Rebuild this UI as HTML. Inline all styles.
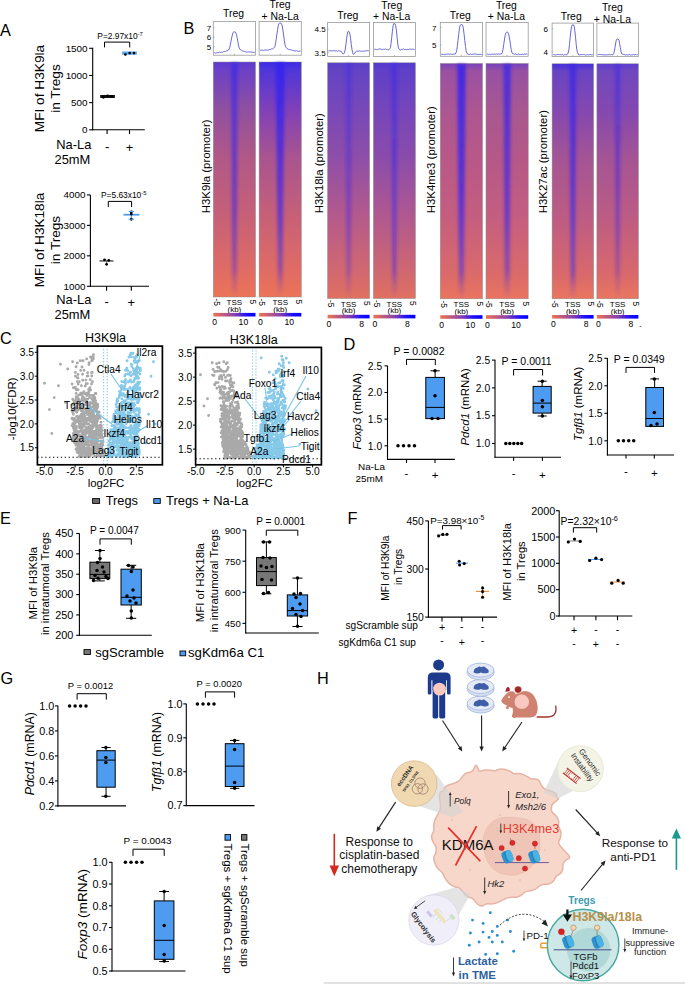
<!DOCTYPE html>
<html><head><meta charset="utf-8"><style>html,body{margin:0;padding:0;background:#fff;}body{width:685px;height:985px;overflow:hidden;font-family:"Liberation Sans", sans-serif;}svg{display:block;}</style></head>
<body><svg width="685" height="985" viewBox="0 0 685 985" font-family='"Liberation Sans", sans-serif'><defs><linearGradient id="cbar" x1="0" x2="1" y1="0" y2="0"><stop offset="0" stop-color="#f07450"/><stop offset="0.5" stop-color="#8a40b0"/><stop offset="0.78" stop-color="#2010f8"/><stop offset="1" stop-color="#0000ff"/></linearGradient><filter id="bblur" x="-50%" y="-5%" width="200%" height="110%"><feGaussianBlur stdDeviation="1.7"/></filter><linearGradient id="hg1" x1="0" x2="0" y1="0" y2="1"><stop offset="0" stop-color="#6a40c8"/><stop offset="0.025" stop-color="#6a40c8"/><stop offset="0.2" stop-color="#9050a0"/><stop offset="0.4" stop-color="#b05888"/><stop offset="0.65" stop-color="#c66078"/><stop offset="0.89" stop-color="#e06c64"/><stop offset="1.0" stop-color="#ec7458"/></linearGradient><linearGradient id="bo1" x1="0" x2="0" y1="0" y2="1"><stop offset="0" stop-color="#3020f0" stop-opacity="0.55"/><stop offset="0.4" stop-color="#3020f0" stop-opacity="0.55"/><stop offset="0.65" stop-color="#3020f0" stop-opacity="0.52"/><stop offset="0.89" stop-color="#3020f0" stop-opacity="0.35"/><stop offset="1" stop-color="#3020f0" stop-opacity="0"/></linearGradient><linearGradient id="cap1" x1="0" x2="0" y1="0" y2="1"><stop offset="0" stop-color="#3020f0" stop-opacity="0.2"/><stop offset="1" stop-color="#3020f0" stop-opacity="0"/></linearGradient><linearGradient id="hg2" x1="0" x2="0" y1="0" y2="1"><stop offset="0" stop-color="#4c36dc"/><stop offset="0.025" stop-color="#4c36dc"/><stop offset="0.2" stop-color="#8040b8"/><stop offset="0.4" stop-color="#a85490"/><stop offset="0.65" stop-color="#c66078"/><stop offset="0.89" stop-color="#e06c64"/><stop offset="1.0" stop-color="#ec7458"/></linearGradient><linearGradient id="bo2" x1="0" x2="0" y1="0" y2="1"><stop offset="0" stop-color="#3020f0" stop-opacity="0.8"/><stop offset="0.4" stop-color="#3020f0" stop-opacity="0.65"/><stop offset="0.65" stop-color="#3020f0" stop-opacity="0.58"/><stop offset="0.89" stop-color="#3020f0" stop-opacity="0.4"/><stop offset="1" stop-color="#3020f0" stop-opacity="0"/></linearGradient><linearGradient id="cap2" x1="0" x2="0" y1="0" y2="1"><stop offset="0" stop-color="#3020f0" stop-opacity="0.5"/><stop offset="1" stop-color="#3020f0" stop-opacity="0"/></linearGradient><linearGradient id="hg3" x1="0" x2="0" y1="0" y2="1"><stop offset="0" stop-color="#6244c4"/><stop offset="0.025" stop-color="#6244c4"/><stop offset="0.2" stop-color="#7848b8"/><stop offset="0.4" stop-color="#8e4ea8"/><stop offset="0.65" stop-color="#b45a8c"/><stop offset="0.89" stop-color="#d26870"/><stop offset="1.0" stop-color="#e07060"/></linearGradient><linearGradient id="bo3" x1="0" x2="0" y1="0" y2="1"><stop offset="0" stop-color="#3020f0" stop-opacity="0.3"/><stop offset="0.4" stop-color="#3020f0" stop-opacity="0.32"/><stop offset="0.65" stop-color="#3020f0" stop-opacity="0.36"/><stop offset="0.89" stop-color="#3020f0" stop-opacity="0.3"/><stop offset="1" stop-color="#3020f0" stop-opacity="0"/></linearGradient><linearGradient id="cap3" x1="0" x2="0" y1="0" y2="1"><stop offset="0" stop-color="#3020f0" stop-opacity="0.15"/><stop offset="1" stop-color="#3020f0" stop-opacity="0"/></linearGradient><linearGradient id="hg4" x1="0" x2="0" y1="0" y2="1"><stop offset="0" stop-color="#5e40c8"/><stop offset="0.025" stop-color="#5e40c8"/><stop offset="0.2" stop-color="#7646ba"/><stop offset="0.4" stop-color="#8a4caa"/><stop offset="0.65" stop-color="#b05890"/><stop offset="0.89" stop-color="#d06870"/><stop offset="1.0" stop-color="#e07060"/></linearGradient><linearGradient id="bo4" x1="0" x2="0" y1="0" y2="1"><stop offset="0" stop-color="#3020f0" stop-opacity="0.35"/><stop offset="0.4" stop-color="#3020f0" stop-opacity="0.42"/><stop offset="0.65" stop-color="#3020f0" stop-opacity="0.45"/><stop offset="0.89" stop-color="#3020f0" stop-opacity="0.42"/><stop offset="1" stop-color="#3020f0" stop-opacity="0"/></linearGradient><linearGradient id="cap4" x1="0" x2="0" y1="0" y2="1"><stop offset="0" stop-color="#3020f0" stop-opacity="0.2"/><stop offset="1" stop-color="#3020f0" stop-opacity="0"/></linearGradient><linearGradient id="hg5" x1="0" x2="0" y1="0" y2="1"><stop offset="0" stop-color="#9a50a2"/><stop offset="0.025" stop-color="#9a50a2"/><stop offset="0.2" stop-color="#ac5692"/><stop offset="0.4" stop-color="#b85888"/><stop offset="0.65" stop-color="#c45e80"/><stop offset="0.89" stop-color="#da6a6a"/><stop offset="1.0" stop-color="#ea7460"/></linearGradient><linearGradient id="bo5" x1="0" x2="0" y1="0" y2="1"><stop offset="0" stop-color="#3020f0" stop-opacity="0.8"/><stop offset="0.4" stop-color="#3020f0" stop-opacity="0.72"/><stop offset="0.65" stop-color="#3020f0" stop-opacity="0.62"/><stop offset="0.89" stop-color="#3020f0" stop-opacity="0.45"/><stop offset="1" stop-color="#3020f0" stop-opacity="0"/></linearGradient><linearGradient id="cap5" x1="0" x2="0" y1="0" y2="1"><stop offset="0" stop-color="#3020f0" stop-opacity="0.3"/><stop offset="1" stop-color="#3020f0" stop-opacity="0"/></linearGradient><linearGradient id="hg6" x1="0" x2="0" y1="0" y2="1"><stop offset="0" stop-color="#9650a4"/><stop offset="0.025" stop-color="#9650a4"/><stop offset="0.2" stop-color="#a85890"/><stop offset="0.4" stop-color="#b45888"/><stop offset="0.65" stop-color="#c45e80"/><stop offset="0.89" stop-color="#da6a6a"/><stop offset="1.0" stop-color="#ea7460"/></linearGradient><linearGradient id="bo6" x1="0" x2="0" y1="0" y2="1"><stop offset="0" stop-color="#3020f0" stop-opacity="0.7"/><stop offset="0.4" stop-color="#3020f0" stop-opacity="0.6"/><stop offset="0.65" stop-color="#3020f0" stop-opacity="0.55"/><stop offset="0.89" stop-color="#3020f0" stop-opacity="0.4"/><stop offset="1" stop-color="#3020f0" stop-opacity="0"/></linearGradient><linearGradient id="cap6" x1="0" x2="0" y1="0" y2="1"><stop offset="0" stop-color="#3020f0" stop-opacity="0.3"/><stop offset="1" stop-color="#3020f0" stop-opacity="0"/></linearGradient><linearGradient id="hg7" x1="0" x2="0" y1="0" y2="1"><stop offset="0" stop-color="#6844c4"/><stop offset="0.025" stop-color="#6844c4"/><stop offset="0.2" stop-color="#8448b0"/><stop offset="0.4" stop-color="#a45494"/><stop offset="0.65" stop-color="#bc5c84"/><stop offset="0.89" stop-color="#d8686c"/><stop offset="1.0" stop-color="#ea7660"/></linearGradient><linearGradient id="bo7" x1="0" x2="0" y1="0" y2="1"><stop offset="0" stop-color="#3020f0" stop-opacity="0.6"/><stop offset="0.4" stop-color="#3020f0" stop-opacity="0.58"/><stop offset="0.65" stop-color="#3020f0" stop-opacity="0.55"/><stop offset="0.89" stop-color="#3020f0" stop-opacity="0.45"/><stop offset="1" stop-color="#3020f0" stop-opacity="0"/></linearGradient><linearGradient id="cap7" x1="0" x2="0" y1="0" y2="1"><stop offset="0" stop-color="#3020f0" stop-opacity="0.6"/><stop offset="1" stop-color="#3020f0" stop-opacity="0"/></linearGradient><linearGradient id="hg8" x1="0" x2="0" y1="0" y2="1"><stop offset="0" stop-color="#7048c0"/><stop offset="0.025" stop-color="#7048c0"/><stop offset="0.2" stop-color="#8448b0"/><stop offset="0.4" stop-color="#a45494"/><stop offset="0.65" stop-color="#bc5c84"/><stop offset="0.89" stop-color="#d8686c"/><stop offset="1.0" stop-color="#ea7660"/></linearGradient><linearGradient id="bo8" x1="0" x2="0" y1="0" y2="1"><stop offset="0" stop-color="#3020f0" stop-opacity="0.38"/><stop offset="0.4" stop-color="#3020f0" stop-opacity="0.42"/><stop offset="0.65" stop-color="#3020f0" stop-opacity="0.4"/><stop offset="0.89" stop-color="#3020f0" stop-opacity="0.3"/><stop offset="1" stop-color="#3020f0" stop-opacity="0"/></linearGradient><linearGradient id="cap8" x1="0" x2="0" y1="0" y2="1"><stop offset="0" stop-color="#3020f0" stop-opacity="0.3"/><stop offset="1" stop-color="#3020f0" stop-opacity="0"/></linearGradient></defs><text x="0" y="36" font-size="16.3">A</text>
<text x="183.5" y="33.8" font-size="16.3">B</text>
<text x="0" y="343.5" font-size="16.3">C</text>
<text x="343.5" y="350" font-size="16.3">D</text>
<text x="0" y="523.7" font-size="16.3">E</text>
<text x="347.5" y="523.5" font-size="16.3">F</text>
<text x="0.5" y="683.7" font-size="16.3">G</text>
<text x="317" y="683.6" font-size="16.3">H</text>
<line x1="92.7" y1="47.8" x2="92.7" y2="130.3" stroke="#000" stroke-width="1.1"/>
<line x1="89.2" y1="129.8" x2="92.7" y2="129.8" stroke="#000" stroke-width="1.1"/>
<text x="87.6" y="133.36" font-size="9.9" text-anchor="end">0</text>
<line x1="89.2" y1="102.63" x2="92.7" y2="102.63" stroke="#000" stroke-width="1.1"/>
<text x="87.6" y="106.2" font-size="9.9" text-anchor="end">500</text>
<line x1="89.2" y1="75.47" x2="92.7" y2="75.47" stroke="#000" stroke-width="1.1"/>
<text x="87.6" y="79.03" font-size="9.9" text-anchor="end">1000</text>
<line x1="89.2" y1="48.3" x2="92.7" y2="48.3" stroke="#000" stroke-width="1.1"/>
<text x="87.6" y="51.86" font-size="9.9" text-anchor="end">1500</text>
<line x1="92.2" y1="129.8" x2="144.8" y2="129.8" stroke="#000" stroke-width="1.1"/>
<line x1="107.1" y1="129.8" x2="107.1" y2="134" stroke="#000" stroke-width="1.1"/>
<line x1="129.5" y1="129.8" x2="129.5" y2="134" stroke="#000" stroke-width="1.1"/>
<rect x="100.2" y="95" width="14.7" height="3" fill="#111"/>
<circle cx="103.4" cy="97.3" r="1.35" fill="#000"/>
<circle cx="107.6" cy="95.8" r="1.35" fill="#000"/>
<circle cx="111.8" cy="96.3" r="1.35" fill="#000"/>
<rect x="122.1" y="51.5" width="14.8" height="3.2" fill="#5aa9f5"/>
<circle cx="125.4" cy="54.5" r="1.35" fill="#000"/>
<circle cx="129.7" cy="53.1" r="1.35" fill="#000"/>
<circle cx="134" cy="53.1" r="1.35" fill="#000"/>
<path d="M104.5 47.4V42.1H129.7V47.4" fill="none" stroke="#000" stroke-width="1"/>
<text x="97.3" y="39.4" font-size="8.4" text-anchor="start">P=2.97x10<tspan font-size="5.88" dy="-3.36">-7</tspan></text>
<text x="44" y="88.5" font-size="13.7" text-anchor="middle" transform="rotate(-90 44 88.5)">MFI of H3K9la</text>
<text x="60.1" y="88.5" font-size="13.7" text-anchor="middle" transform="rotate(-90 60.1 88.5)">in Tregs</text>
<text x="56.3" y="148.5" font-size="12.9">Na-La</text>
<text x="54.5" y="164" font-size="12.9">25mM</text>
<text x="107.1" y="151" font-size="12.9" text-anchor="middle">-</text>
<text x="129.5" y="152" font-size="12.9" text-anchor="middle">+</text>
<line x1="90.4" y1="194.9" x2="90.4" y2="286.8" stroke="#000" stroke-width="1.1"/>
<line x1="86.9" y1="286.3" x2="90.4" y2="286.3" stroke="#000" stroke-width="1.1"/>
<text x="85.5" y="289.86" font-size="9.9" text-anchor="end">1000</text>
<line x1="86.9" y1="255.83" x2="90.4" y2="255.83" stroke="#000" stroke-width="1.1"/>
<text x="85.5" y="259.4" font-size="9.9" text-anchor="end">2000</text>
<line x1="86.9" y1="225.37" x2="90.4" y2="225.37" stroke="#000" stroke-width="1.1"/>
<text x="85.5" y="228.93" font-size="9.9" text-anchor="end">3000</text>
<line x1="86.9" y1="194.9" x2="90.4" y2="194.9" stroke="#000" stroke-width="1.1"/>
<text x="85.5" y="198.46" font-size="9.9" text-anchor="end">4000</text>
<line x1="89.9" y1="286.3" x2="149" y2="286.3" stroke="#000" stroke-width="1.1"/>
<line x1="106.6" y1="286.3" x2="106.6" y2="290.7" stroke="#000" stroke-width="1.1"/>
<line x1="131.3" y1="286.3" x2="131.3" y2="290.7" stroke="#000" stroke-width="1.1"/>
<line x1="99.5" y1="260.92" x2="113.5" y2="260.92" stroke="#666" stroke-width="1.6"/>
<line x1="106.6" y1="264.36" x2="106.6" y2="259.79" stroke="#666" stroke-width="1"/>
<circle cx="104.5" cy="259.79" r="1.4" fill="#000"/>
<circle cx="108.8" cy="260.4" r="1.4" fill="#000"/>
<circle cx="106.6" cy="264.36" r="1.4" fill="#000"/>
<line x1="123.5" y1="214.7" x2="139.5" y2="214.7" stroke="#4a9ef0" stroke-width="1.8"/>
<line x1="131.3" y1="219.58" x2="131.3" y2="211.35" stroke="#4a9ef0" stroke-width="1.1"/>
<circle cx="131.3" cy="211.96" r="1.4" fill="#000"/>
<circle cx="131.3" cy="214.09" r="1.4" fill="#000"/>
<circle cx="131.3" cy="219.27" r="1.4" fill="#000"/>
<line x1="128.6" y1="219.27" x2="134" y2="219.27" stroke="#4a9ef0" stroke-width="1"/>
<line x1="128.6" y1="211.5" x2="134" y2="211.5" stroke="#4a9ef0" stroke-width="1"/>
<path d="M108.3 207V201.4H131.6V207" fill="none" stroke="#000" stroke-width="1"/>
<text x="101" y="198.4" font-size="8.4" text-anchor="start">P=5.63x10<tspan font-size="5.88" dy="-3.36">-5</tspan></text>
<text x="44" y="240" font-size="13.6" text-anchor="middle" transform="rotate(-90 44 240)">MFI of H3K18la</text>
<text x="60.1" y="240" font-size="13.6" text-anchor="middle" transform="rotate(-90 60.1 240)">in Tregs</text>
<text x="56.3" y="303.5" font-size="12.9">Na-La</text>
<text x="54.5" y="318.5" font-size="12.9">25mM</text>
<text x="106.6" y="306" font-size="12.9" text-anchor="middle">-</text>
<text x="131.3" y="307" font-size="12.9" text-anchor="middle">+</text>
<rect x="213.3" y="21.5" width="42.2" height="33.7" fill="#fff" stroke="#9a9a9a" stroke-width="0.8"/>
<line x1="234.4" y1="55.2" x2="234.4" y2="53.7" stroke="#888" stroke-width="0.6"/>
<polyline points="214.1,52.9 214.8,52.7 215.5,53.0 216.1,52.6 216.8,52.9 217.5,52.7 218.2,52.5 218.8,52.7 219.5,52.3 220.2,52.5 220.9,52.2 221.5,52.1 222.2,52.2 222.9,52.3 223.6,51.6 224.3,51.5 224.9,51.6 225.6,51.5 226.3,51.0 227.0,50.6 227.6,50.7 228.3,49.7 229.0,49.5 229.7,47.5 230.3,44.8 231.0,41.3 231.7,37.6 232.4,34.9 233.0,32.5 233.7,32.0 234.4,31.9 235.1,31.8 235.8,32.8 236.4,34.3 237.1,37.4 237.8,41.3 238.5,45.2 239.1,47.6 239.8,49.0 240.5,49.9 241.2,50.2 241.8,50.4 242.5,51.0 243.2,51.2 243.9,51.0 244.6,51.5 245.2,51.6 245.9,52.0 246.6,52.0 247.3,51.8 247.9,52.3 248.6,51.8 249.3,52.0 250.0,52.3 250.6,51.9 251.3,52.2 252.0,51.9 252.7,52.3 253.3,52.4 254.0,52.2 254.7,52.4" fill="none" stroke="#5656d2" stroke-width="0.9"/>
<rect x="213.3" y="62" width="42.2" height="235" fill="url(#hg1)" stroke="#8a8a8a" stroke-width="0.5"/>
<path d="M231.2 62.5H237.7L236.7 296.0H232.2Z" fill="url(#bo1)" filter="url(#bblur)"/>
<rect x="213.6" y="62.3" width="41.6" height="7" fill="url(#cap1)"/>
<text x="213.5" y="298.6" font-size="8.2" transform="rotate(90 213.5 298.6)">-5</text>
<text x="249.9" y="299.6" font-size="8.2" transform="rotate(90 249.9 299.6)">5</text>
<text x="234.4" y="305.2" font-size="8" text-anchor="middle">TSS</text>
<text x="234.4" y="311.9" font-size="8" text-anchor="middle">(kb)</text>
<rect x="213.3" y="312.9" width="42.2" height="3.6" fill="url(#cbar)"/>
<text x="212.3" y="325.3" font-size="8.6">0</text>
<text x="243.4" y="325.3" font-size="8.6" text-anchor="middle">10</text>
<rect x="259.1" y="21.5" width="42.2" height="33.7" fill="#fff" stroke="#9a9a9a" stroke-width="0.8"/>
<line x1="280.2" y1="55.2" x2="280.2" y2="53.7" stroke="#888" stroke-width="0.6"/>
<polyline points="259.9,50.0 260.6,50.3 261.3,50.3 261.9,50.2 262.6,50.2 263.3,50.4 264.0,50.5 264.6,50.1 265.3,50.2 266.0,49.8 266.7,50.2 267.3,50.1 268.0,50.2 268.7,50.0 269.4,49.5 270.1,49.5 270.7,49.5 271.4,48.9 272.1,49.1 272.8,48.7 273.4,48.3 274.1,47.7 274.8,46.8 275.5,43.8 276.1,39.8 276.8,34.9 277.5,30.3 278.2,25.9 278.8,23.8 279.5,23.0 280.2,23.1 280.9,23.2 281.6,24.1 282.2,26.0 282.9,30.0 283.6,34.9 284.3,40.3 284.9,44.4 285.6,46.5 286.3,47.9 287.0,48.6 287.6,48.9 288.3,49.3 289.0,49.6 289.7,49.6 290.4,49.6 291.0,50.0 291.7,50.1 292.4,50.4 293.1,50.8 293.7,50.7 294.4,50.7 295.1,50.9 295.8,51.0 296.4,50.6 297.1,51.3 297.8,51.2 298.5,51.3 299.1,51.3 299.8,51.1 300.5,51.1" fill="none" stroke="#5656d2" stroke-width="0.9"/>
<rect x="259.1" y="62" width="42.2" height="235" fill="url(#hg2)" stroke="#8a8a8a" stroke-width="0.5"/>
<path d="M275.7 62.5H284.7L282.5 296.0H278.0Z" fill="url(#bo2)" filter="url(#bblur)"/>
<rect x="259.4" y="62.3" width="41.6" height="7" fill="url(#cap2)"/>
<text x="259.3" y="298.6" font-size="8.2" transform="rotate(90 259.3 298.6)">-5</text>
<text x="295.7" y="299.6" font-size="8.2" transform="rotate(90 295.7 299.6)">5</text>
<text x="280.2" y="305.2" font-size="8" text-anchor="middle">TSS</text>
<text x="280.2" y="311.9" font-size="8" text-anchor="middle">(kb)</text>
<rect x="259.1" y="312.9" width="42.2" height="3.6" fill="url(#cbar)"/>
<text x="258.1" y="325.3" font-size="8.6">0</text>
<text x="289.2" y="325.3" font-size="8.6" text-anchor="middle">10</text>
<text x="211.2" y="30.5" font-size="8" text-anchor="end">7</text>
<line x1="213.3" y1="27.6" x2="214.5" y2="27.6" stroke="#888" stroke-width="0.6"/>
<text x="211.2" y="40.1" font-size="8" text-anchor="end">6</text>
<line x1="213.3" y1="37.2" x2="214.5" y2="37.2" stroke="#888" stroke-width="0.6"/>
<text x="211.2" y="49.5" font-size="8" text-anchor="end">5</text>
<line x1="213.3" y1="46.6" x2="214.5" y2="46.6" stroke="#888" stroke-width="0.6"/>
<text x="233.5" y="17.4" font-size="10.4" text-anchor="middle">Treg</text>
<text x="280.1" y="8.3" font-size="10.4" text-anchor="middle">Treg</text>
<text x="280.1" y="19.5" font-size="10.4" text-anchor="middle">+ Na-La</text>
<text x="209.6" y="213.2" font-size="11.4" transform="rotate(-90 209.6 213.2)">H3K9la (promoter)</text>
<rect x="327.6" y="22.5" width="42" height="34" fill="#fff" stroke="#9a9a9a" stroke-width="0.8"/>
<line x1="348.6" y1="56.5" x2="348.6" y2="55" stroke="#888" stroke-width="0.6"/>
<polyline points="328.4,50.7 329.1,51.1 329.7,50.7 330.4,50.7 331.1,50.8 331.8,50.8 332.4,50.9 333.1,50.7 333.8,50.7 334.5,50.8 335.1,50.7 335.8,50.9 336.5,50.7 337.2,51.3 337.8,51.1 338.5,50.8 339.2,50.8 339.8,50.9 340.5,51.1 341.2,51.3 341.9,52.5 342.5,53.6 343.2,53.9 343.9,53.8 344.6,52.4 345.2,49.5 345.9,44.7 346.6,38.5 347.3,34.2 347.9,31.6 348.6,31.2 349.3,32.1 349.9,34.0 350.6,38.5 351.3,44.8 352.0,49.5 352.6,52.7 353.3,54.2 354.0,54.1 354.7,53.3 355.3,52.1 356.0,51.5 356.7,51.0 357.4,51.2 358.0,51.0 358.7,51.2 359.4,50.9 360.0,50.8 360.7,51.2 361.4,51.3 362.1,51.2 362.7,51.2 363.4,51.2 364.1,51.2 364.8,50.8 365.4,51.0 366.1,50.9 366.8,50.7 367.5,50.7 368.1,50.8 368.8,50.8" fill="none" stroke="#5656d2" stroke-width="0.9"/>
<rect x="327.6" y="62.8" width="42" height="235.7" fill="url(#hg3)" stroke="#8a8a8a" stroke-width="0.5"/>
<path d="M345.4 63.3H351.9L350.6 297.5H346.6Z" fill="url(#bo3)" filter="url(#bblur)"/>
<rect x="327.9" y="63.1" width="41.4" height="7" fill="url(#cap3)"/>
<text x="327.8" y="300.1" font-size="8.2" transform="rotate(90 327.8 300.1)">-5</text>
<text x="364" y="301.1" font-size="8.2" transform="rotate(90 364 301.1)">5</text>
<text x="348.6" y="306.7" font-size="8" text-anchor="middle">TSS</text>
<text x="348.6" y="313.4" font-size="8" text-anchor="middle">(kb)</text>
<rect x="327.6" y="314.8" width="42" height="3.6" fill="url(#cbar)"/>
<text x="326.6" y="327.2" font-size="8.6">0</text>
<text x="361.7" y="327.2" font-size="8.6" text-anchor="middle">8</text>
<rect x="373.4" y="22.5" width="42" height="34" fill="#fff" stroke="#9a9a9a" stroke-width="0.8"/>
<line x1="394.4" y1="56.5" x2="394.4" y2="55" stroke="#888" stroke-width="0.6"/>
<polyline points="374.2,49.3 374.9,49.5 375.5,49.2 376.2,49.5 376.9,49.6 377.6,49.5 378.2,49.1 378.9,49.0 379.6,49.0 380.3,49.0 380.9,49.0 381.6,49.3 382.3,49.5 383.0,49.5 383.6,49.2 384.3,49.3 385.0,49.4 385.6,48.9 386.3,49.4 387.0,49.6 387.7,49.7 388.3,49.8 389.0,49.6 389.7,48.9 390.4,47.8 391.0,43.7 391.7,37.8 392.4,31.1 393.1,25.7 393.7,23.6 394.4,23.6 395.1,23.8 395.7,25.5 396.4,30.5 397.1,37.3 397.8,44.1 398.4,47.9 399.1,48.9 399.8,49.8 400.5,50.0 401.1,49.6 401.8,49.3 402.5,49.4 403.2,49.0 403.8,49.0 404.5,49.6 405.2,49.4 405.8,49.4 406.5,49.6 407.2,49.3 407.9,49.6 408.5,49.6 409.2,49.2 409.9,49.2 410.6,49.2 411.2,49.2 411.9,49.4 412.6,49.2 413.3,49.3 413.9,49.1 414.6,49.7" fill="none" stroke="#5656d2" stroke-width="0.9"/>
<rect x="373.4" y="62.8" width="42" height="235.7" fill="url(#hg4)" stroke="#8a8a8a" stroke-width="0.5"/>
<path d="M391.1 63.3H397.6L396.4 297.5H392.4Z" fill="url(#bo4)" filter="url(#bblur)"/>
<rect x="373.7" y="63.1" width="41.4" height="7" fill="url(#cap4)"/>
<text x="373.6" y="300.1" font-size="8.2" transform="rotate(90 373.6 300.1)">-5</text>
<text x="409.8" y="301.1" font-size="8.2" transform="rotate(90 409.8 301.1)">5</text>
<text x="394.4" y="306.7" font-size="8" text-anchor="middle">TSS</text>
<text x="394.4" y="313.4" font-size="8" text-anchor="middle">(kb)</text>
<rect x="373.4" y="314.8" width="42" height="3.6" fill="url(#cbar)"/>
<text x="372.4" y="327.2" font-size="8.6">0</text>
<text x="407.5" y="327.2" font-size="8.6" text-anchor="middle">8</text>
<text x="325.6" y="32.1" font-size="8" text-anchor="end">4.5</text>
<line x1="327.6" y1="29.2" x2="328.8" y2="29.2" stroke="#888" stroke-width="0.6"/>
<text x="325.6" y="55.6" font-size="8" text-anchor="end">3.5</text>
<line x1="327.6" y1="52.7" x2="328.8" y2="52.7" stroke="#888" stroke-width="0.6"/>
<text x="347.8" y="18.8" font-size="10.4" text-anchor="middle">Treg</text>
<text x="391.7" y="9.2" font-size="10.4" text-anchor="middle">Treg</text>
<text x="391.7" y="20.4" font-size="10.4" text-anchor="middle">+ Na-La</text>
<text x="323.4" y="213.2" font-size="11.4" transform="rotate(-90 323.4 213.2)">H3K18la (promoter)</text>
<rect x="440.3" y="22.5" width="42.2" height="33.8" fill="#fff" stroke="#9a9a9a" stroke-width="0.8"/>
<line x1="461.4" y1="56.3" x2="461.4" y2="54.8" stroke="#888" stroke-width="0.6"/>
<polyline points="441.1,54.2 441.8,54.3 442.5,54.4 443.1,54.6 443.8,54.2 444.5,54.6 445.2,54.3 445.8,54.3 446.5,54.3 447.2,53.9 447.9,54.2 448.5,54.0 449.2,53.9 449.9,54.5 450.6,54.0 451.2,54.2 451.9,54.4 452.6,54.2 453.3,54.1 454.0,54.2 454.6,54.1 455.3,54.0 456.0,52.7 456.7,50.8 457.3,46.4 458.0,40.5 458.7,34.4 459.4,29.0 460.0,25.8 460.7,24.7 461.4,24.6 462.1,24.5 462.8,25.9 463.4,29.0 464.1,34.3 464.8,40.8 465.5,46.5 466.1,50.7 466.8,52.9 467.5,54.1 468.2,54.2 468.8,54.4 469.5,54.5 470.2,54.0 470.9,54.2 471.6,54.5 472.2,54.5 472.9,54.0 473.6,54.0 474.3,54.2 474.9,54.0 475.6,54.1 476.3,54.0 477.0,54.4 477.6,54.5 478.3,54.6 479.0,54.1 479.7,54.4 480.3,54.4 481.0,54.0 481.7,54.6" fill="none" stroke="#5656d2" stroke-width="0.9"/>
<rect x="440.3" y="63.5" width="42.2" height="235.3" fill="url(#hg5)" stroke="#8a8a8a" stroke-width="0.5"/>
<path d="M457.2 64.0H465.7L463.9 297.8H458.9Z" fill="url(#bo5)" filter="url(#bblur)"/>
<rect x="440.6" y="63.8" width="41.6" height="7" fill="url(#cap5)"/>
<text x="440.5" y="300.4" font-size="8.2" transform="rotate(90 440.5 300.4)">-5</text>
<text x="476.9" y="301.4" font-size="8.2" transform="rotate(90 476.9 301.4)">5</text>
<text x="461.4" y="307" font-size="8" text-anchor="middle">TSS</text>
<text x="461.4" y="313.7" font-size="8" text-anchor="middle">(kb)</text>
<rect x="440.3" y="315.2" width="42.2" height="3.6" fill="url(#cbar)"/>
<text x="439.3" y="327.6" font-size="8.6">0</text>
<text x="470.4" y="327.6" font-size="8.6" text-anchor="middle">10</text>
<rect x="486" y="22.5" width="42.2" height="33.8" fill="#fff" stroke="#9a9a9a" stroke-width="0.8"/>
<line x1="507.1" y1="56.3" x2="507.1" y2="54.8" stroke="#888" stroke-width="0.6"/>
<polyline points="486.8,54.6 487.5,54.1 488.2,54.6 488.8,54.2 489.5,54.3 490.2,54.6 490.9,54.5 491.5,54.1 492.2,54.2 492.9,54.3 493.6,54.2 494.2,54.1 494.9,54.1 495.6,54.4 496.3,53.9 496.9,54.3 497.6,54.2 498.3,53.9 499.0,54.1 499.7,54.2 500.3,54.1 501.0,53.7 501.7,53.9 502.4,52.3 503.0,49.6 503.7,44.7 504.4,40.0 505.1,35.7 505.7,33.6 506.4,32.2 507.1,31.9 507.8,32.3 508.5,33.7 509.1,36.2 509.8,40.0 510.5,44.8 511.2,49.6 511.8,52.2 512.5,53.7 513.2,53.7 513.9,53.8 514.5,54.3 515.2,54.1 515.9,53.9 516.6,54.5 517.2,54.3 517.9,54.5 518.6,54.0 519.3,54.5 520.0,54.0 520.6,54.5 521.3,54.3 522.0,54.2 522.7,54.3 523.3,54.6 524.0,54.1 524.7,54.0 525.4,54.3 526.0,54.1 526.7,54.0 527.4,54.1" fill="none" stroke="#5656d2" stroke-width="0.9"/>
<rect x="486" y="63.5" width="42.2" height="235.3" fill="url(#hg6)" stroke="#8a8a8a" stroke-width="0.5"/>
<path d="M503.4 64.0H510.9L509.6 297.8H504.6Z" fill="url(#bo6)" filter="url(#bblur)"/>
<rect x="486.3" y="63.8" width="41.6" height="7" fill="url(#cap6)"/>
<text x="486.2" y="300.4" font-size="8.2" transform="rotate(90 486.2 300.4)">-5</text>
<text x="522.6" y="301.4" font-size="8.2" transform="rotate(90 522.6 301.4)">5</text>
<text x="507.1" y="307" font-size="8" text-anchor="middle">TSS</text>
<text x="507.1" y="313.7" font-size="8" text-anchor="middle">(kb)</text>
<rect x="486" y="315.2" width="42.2" height="3.6" fill="url(#cbar)"/>
<text x="485" y="327.6" font-size="8.6">0</text>
<text x="516.1" y="327.6" font-size="8.6" text-anchor="middle">10</text>
<text x="436.4" y="30.5" font-size="8" text-anchor="end">7</text>
<line x1="440.3" y1="27.6" x2="441.5" y2="27.6" stroke="#888" stroke-width="0.6"/>
<text x="436.4" y="47.9" font-size="8" text-anchor="end">5</text>
<line x1="440.3" y1="45" x2="441.5" y2="45" stroke="#888" stroke-width="0.6"/>
<text x="460.3" y="19.4" font-size="10.4" text-anchor="middle">Treg</text>
<text x="506.4" y="9.2" font-size="10.4" text-anchor="middle">Treg</text>
<text x="506.4" y="20.4" font-size="10.4" text-anchor="middle">+ Na-La</text>
<text x="434.6" y="213.2" font-size="11.4" transform="rotate(-90 434.6 213.2)">H3K4me3 (promoter)</text>
<rect x="552.1" y="23.1" width="41.5" height="33.5" fill="#fff" stroke="#9a9a9a" stroke-width="0.8"/>
<line x1="572.85" y1="56.6" x2="572.85" y2="55.1" stroke="#888" stroke-width="0.6"/>
<polyline points="552.9,54.5 553.6,54.6 554.2,54.7 554.9,54.7 555.6,55.0 556.2,54.7 556.9,54.8 557.6,54.6 558.2,54.7 558.9,54.5 559.5,54.6 560.2,54.4 560.9,54.9 561.5,54.8 562.2,54.6 562.9,54.7 563.5,55.1 564.2,54.5 564.9,55.0 565.5,54.7 566.2,54.7 566.9,54.9 567.5,54.2 568.2,53.0 568.9,49.9 569.5,44.5 570.2,37.1 570.9,31.1 571.5,26.9 572.2,25.1 572.9,24.7 573.5,24.9 574.2,26.4 574.8,30.6 575.5,36.9 576.2,44.3 576.8,49.6 577.5,52.7 578.2,54.0 578.8,54.9 579.5,55.0 580.2,54.8 580.8,54.6 581.5,54.6 582.2,54.6 582.8,54.7 583.5,54.5 584.2,54.7 584.8,54.6 585.5,55.1 586.1,55.1 586.8,54.8 587.5,54.6 588.1,55.1 588.8,54.7 589.5,54.7 590.1,54.4 590.8,54.7 591.5,54.8 592.1,54.8 592.8,54.6" fill="none" stroke="#5656d2" stroke-width="0.9"/>
<rect x="552.1" y="63.8" width="41.5" height="235" fill="url(#hg7)" stroke="#8a8a8a" stroke-width="0.5"/>
<path d="M569.4 64.3H576.4L575.1 297.8H570.6Z" fill="url(#bo7)" filter="url(#bblur)"/>
<rect x="552.4" y="64.1" width="40.9" height="7" fill="url(#cap7)"/>
<text x="552.3" y="300.4" font-size="8.2" transform="rotate(90 552.3 300.4)">-5</text>
<text x="588" y="301.4" font-size="8.2" transform="rotate(90 588 301.4)">5</text>
<text x="572.85" y="307" font-size="8" text-anchor="middle">TSS</text>
<text x="572.85" y="313.7" font-size="8" text-anchor="middle">(kb)</text>
<rect x="552.1" y="315" width="41.5" height="3.6" fill="url(#cbar)"/>
<text x="551.1" y="327.4" font-size="8.6">0</text>
<text x="586.2" y="327.4" font-size="8.6" text-anchor="middle">8</text>
<rect x="596.9" y="23.1" width="41.5" height="33.5" fill="#fff" stroke="#9a9a9a" stroke-width="0.8"/>
<line x1="617.65" y1="56.6" x2="617.65" y2="55.1" stroke="#888" stroke-width="0.6"/>
<polyline points="597.7,54.8 598.4,54.5 599.0,54.6 599.7,54.5 600.4,54.7 601.0,54.5 601.7,54.5 602.4,54.7 603.0,54.6 603.7,54.9 604.3,54.8 605.0,55.0 605.7,54.9 606.3,54.9 607.0,55.0 607.7,54.7 608.3,54.6 609.0,55.1 609.7,54.5 610.3,54.9 611.0,54.8 611.7,54.4 612.3,54.9 613.0,54.7 613.7,53.6 614.3,51.3 615.0,47.6 615.7,43.0 616.3,40.3 617.0,39.0 617.6,39.0 618.3,39.2 619.0,40.5 619.6,43.3 620.3,47.6 621.0,51.3 621.6,53.6 622.3,54.2 623.0,54.3 623.6,54.4 624.3,54.6 625.0,54.5 625.6,55.0 626.3,54.8 627.0,54.9 627.6,54.9 628.3,54.9 629.0,54.8 629.6,54.4 630.3,55.0 630.9,55.0 631.6,54.8 632.3,54.8 632.9,54.9 633.6,54.5 634.3,55.0 634.9,54.6 635.6,54.5 636.3,54.6 636.9,55.0 637.6,54.6" fill="none" stroke="#5656d2" stroke-width="0.9"/>
<rect x="596.9" y="63.8" width="41.5" height="235" fill="url(#hg8)" stroke="#8a8a8a" stroke-width="0.5"/>
<path d="M614.6 64.3H620.6L619.5 297.8H615.8Z" fill="url(#bo8)" filter="url(#bblur)"/>
<rect x="597.2" y="64.1" width="40.9" height="7" fill="url(#cap8)"/>
<text x="597.1" y="300.4" font-size="8.2" transform="rotate(90 597.1 300.4)">-5</text>
<text x="632.8" y="301.4" font-size="8.2" transform="rotate(90 632.8 301.4)">5</text>
<text x="617.65" y="307" font-size="8" text-anchor="middle">TSS</text>
<text x="617.65" y="313.7" font-size="8" text-anchor="middle">(kb)</text>
<rect x="596.9" y="315" width="41.5" height="3.6" fill="url(#cbar)"/>
<text x="595.9" y="327.4" font-size="8.6">0</text>
<text x="631" y="327.4" font-size="8.6" text-anchor="middle">8</text>
<text x="548" y="31.5" font-size="8" text-anchor="end">6</text>
<line x1="552.1" y1="28.6" x2="553.3" y2="28.6" stroke="#888" stroke-width="0.6"/>
<text x="548" y="54.9" font-size="8" text-anchor="end">4</text>
<line x1="552.1" y1="52" x2="553.3" y2="52" stroke="#888" stroke-width="0.6"/>
<text x="571.2" y="19.8" font-size="10.4" text-anchor="middle">Treg</text>
<text x="612.4" y="11.2" font-size="10.4" text-anchor="middle">Treg</text>
<text x="612.4" y="22.5" font-size="10.4" text-anchor="middle">+ Na-La</text>
<text x="546.7" y="213.2" font-size="11.4" transform="rotate(-90 546.7 213.2)">H3K27ac (promoter)</text>
<path d="M86.7 408.9h0M79.1 446.6h0M90.7 389.9h0M76.8 437.3h0M99.2 412.3h0M92.5 406.9h0M76.3 426.1h0M101.7 435.0h0M91.8 443.0h0M82.5 435.2h0M77.4 435.5h0M89.5 448.6h0M73.5 438.9h0M74.8 431.2h0M78.7 395.1h0M84.4 429.9h0M89.1 420.2h0M101.7 456.0h0M91.5 454.3h0M88.1 448.4h0M89.5 418.5h0M95.2 418.2h0M90.2 454.6h0M77.3 363.0h0M75.3 387.3h0M92.6 423.9h0M72.8 423.6h0M84.6 439.4h0M91.1 414.5h0M100.3 454.3h0M91.2 452.4h0M93.3 359.0h0M94.4 408.8h0M93.8 421.9h0M84.7 444.6h0M92.1 410.4h0M80.7 370.5h0M98.0 454.2h0M80.2 439.4h0M87.0 442.7h0M76.0 448.9h0M99.5 435.3h0M90.3 404.4h0M87.9 450.3h0M83.9 444.6h0M79.6 408.5h0M93.4 433.6h0M75.1 431.6h0M83.2 418.4h0M91.3 437.2h0M95.4 433.1h0M77.4 381.6h0M97.2 414.4h0M93.2 436.9h0M86.6 444.9h0M74.8 387.9h0M88.3 452.5h0M74.6 442.7h0M85.2 423.9h0M84.7 439.2h0M73.9 437.6h0M94.7 416.4h0M91.6 420.3h0M95.3 393.4h0M101.6 431.5h0M90.1 449.1h0M74.0 408.5h0M103.0 450.6h0M81.4 395.1h0M95.9 440.8h0M84.8 393.7h0M92.7 412.6h0M81.1 393.2h0M77.8 450.5h0M88.0 447.1h0M85.6 418.3h0M83.6 435.1h0M88.2 423.6h0M81.5 414.1h0M96.7 426.0h0M94.8 426.0h0M81.1 443.1h0M94.2 444.6h0M97.7 412.6h0M81.3 420.2h0M88.8 437.2h0M88.2 450.9h0M95.3 449.0h0M96.3 435.1h0M95.4 443.1h0M75.4 439.3h0M72.0 425.6h0M75.8 439.0h0M76.1 397.3h0M96.0 439.1h0M76.0 408.3h0M76.6 389.6h0M97.5 420.0h0M73.6 441.3h0M98.4 456.1h0M77.8 449.0h0M97.2 425.5h0M98.6 448.7h0M79.3 426.0h0M94.4 408.5h0M82.5 446.4h0M92.2 372.4h0M90.7 435.4h0M78.9 401.1h0M77.3 389.4h0M94.8 398.8h0M93.0 447.0h0M99.0 416.6h0M73.6 433.5h0M102.1 450.6h0M80.1 456.2h0M81.8 446.6h0M94.4 443.0h0M103.0 437.5h0M76.9 448.6h0M85.0 419.7h0M101.5 442.9h0M89.2 433.7h0M85.2 437.3h0M88.9 429.5h0M92.8 452.2h0M83.9 415.9h0M87.3 402.6h0M89.9 426.1h0M86.5 410.9h0M82.5 426.1h0M97.8 414.2h0M97.3 446.8h0M78.9 431.9h0M81.0 416.6h0M101.3 454.4h0M75.4 408.3h0M85.4 419.8h0M93.7 443.0h0M94.3 426.0h0M92.6 433.5h0M76.3 396.8h0M87.5 412.8h0M78.4 448.9h0M88.2 427.4h0M95.8 410.2h0M96.9 439.1h0M84.2 433.2h0M89.4 435.7h0M86.3 456.4h0M97.6 429.3h0M73.2 433.8h0M90.9 426.0h0M93.5 440.9h0M83.1 450.8h0M84.7 443.3h0M101.0 433.5h0M83.6 426.2h0M90.5 357.1h0M96.9 418.3h0M88.3 439.4h0M85.2 435.4h0M82.0 437.1h0M78.0 420.3h0M102.7 440.9h0M79.8 454.8h0M76.6 416.5h0M78.2 435.4h0M100.1 418.3h0M75.8 422.3h0M93.5 435.0h0M83.7 449.1h0M80.0 418.3h0M82.8 441.3h0M73.4 414.2h0M93.9 401.1h0M89.6 406.8h0M101.0 422.2h0M83.3 414.1h0M79.3 404.4h0M74.9 440.9h0M82.4 401.0h0M88.8 406.9h0M79.9 431.5h0M77.2 452.3h0M94.5 416.1h0M80.2 423.6h0M76.4 389.9h0M72.1 384.0h0M80.1 444.9h0M81.7 408.4h0M93.7 417.9h0M86.0 431.7h0M88.9 454.3h0M76.2 429.7h0M101.1 450.9h0M85.8 439.4h0M82.5 374.2h0M81.1 448.9h0M87.4 456.1h0M82.2 433.3h0M95.4 423.7h0M93.1 401.3h0M80.8 443.4h0M82.8 404.8h0M83.0 435.6h0M74.6 423.5h0M91.4 442.9h0M90.8 435.1h0M99.0 444.9h0M90.2 433.4h0M91.2 454.4h0M85.2 440.9h0M100.1 415.9h0M100.2 450.8h0M97.6 433.2h0M99.5 417.9h0M92.7 437.6h0M79.5 422.2h0M93.7 395.5h0M85.2 386.0h0M79.3 420.3h0M84.8 415.9h0M100.3 427.4h0M95.5 418.2h0M83.4 450.7h0M83.4 431.3h0M101.2 446.9h0M94.7 418.3h0M98.7 416.1h0M81.5 435.4h0M98.0 431.3h0M85.2 444.6h0M80.8 454.4h0M97.2 446.8h0M88.9 445.2h0M83.2 431.7h0M88.6 410.3h0M99.5 446.4h0M98.3 440.9h0M87.6 441.4h0M83.3 452.7h0M102.1 444.9h0M85.5 412.5h0M82.7 401.3h0M85.9 380.1h0M90.1 420.2h0M89.7 395.3h0M95.9 405.1h0M77.8 431.6h0M91.7 376.0h0M91.1 452.2h0M96.9 448.5h0M84.5 418.5h0M95.2 424.2h0M83.2 435.1h0M100.4 445.3h0M96.8 418.0h0M89.6 441.2h0M80.8 441.1h0M89.5 419.7h0M93.8 424.1h0M98.5 450.5h0M90.8 412.1h0M95.9 433.6h0M90.5 402.7h0M99.8 427.9h0M77.2 403.1h0M85.8 443.2h0M86.8 429.9h0M77.4 377.7h0M97.1 420.1h0M88.9 405.0h0M92.3 360.6h0M88.9 446.4h0M100.3 425.7h0M87.2 376.1h0M87.4 439.2h0M94.1 437.3h0M85.9 448.4h0M72.8 399.2h0M87.1 449.1h0M100.2 445.3h0M98.7 454.4h0M100.5 431.7h0M80.0 425.7h0M87.9 376.0h0M75.9 431.2h0M97.2 443.1h0M81.9 406.4h0M75.4 442.6h0M93.1 442.8h0M77.9 445.2h0M80.7 439.3h0M79.3 448.4h0M73.7 404.8h0M82.7 380.2h0M95.2 439.5h0M97.6 435.2h0M74.5 410.7h0M77.5 452.6h0M91.0 408.7h0M84.9 400.7h0M86.7 441.2h0M94.8 439.1h0M103.1 441.4h0M81.9 404.8h0M86.3 448.6h0M99.2 427.8h0M75.8 437.0h0M86.8 454.2h0M91.8 360.8h0M91.0 356.9h0M100.1 450.4h0M97.5 441.0h0M79.5 405.0h0M86.0 402.6h0M81.0 452.2h0M96.3 437.5h0M83.6 444.7h0M92.0 416.2h0M94.3 452.9h0M82.3 450.9h0M89.7 406.3h0M79.1 444.6h0M83.1 404.5h0M97.3 431.6h0M84.0 420.2h0M83.1 393.1h0M94.3 422.0h0M101.8 437.2h0M89.8 416.1h0M91.1 441.0h0M97.8 428.0h0M77.9 418.1h0M81.7 454.7h0M74.4 431.8h0M86.0 430.0h0M94.0 435.5h0M84.2 425.8h0M76.0 433.7h0M94.1 419.8h0M94.6 433.3h0M99.2 450.6h0M93.8 454.6h0M78.5 408.7h0M77.0 420.3h0M79.3 456.5h0M99.3 444.9h0M100.9 425.7h0M82.3 414.4h0M76.1 366.8h0M97.5 454.6h0M100.2 437.1h0M82.6 410.2h0M99.9 425.4h0M91.6 418.1h0M89.5 397.2h0M88.0 410.5h0M92.3 435.7h0M91.5 438.8h0M88.8 452.3h0M94.4 431.5h0M102.0 430.0h0M76.6 437.0h0M86.2 383.8h0M87.6 418.5h0M73.3 423.6h0M86.4 439.0h0M76.6 398.9h0M100.0 449.0h0M82.0 367.0h0M74.9 427.9h0M87.7 439.4h0M86.7 399.1h0M90.7 452.7h0M100.9 456.4h0M82.1 443.1h0M78.4 452.3h0M82.8 443.3h0M79.8 427.9h0M93.6 419.8h0M88.5 437.6h0M93.3 410.3h0M83.2 454.3h0M84.9 454.3h0M71.9 418.5h0M96.7 427.7h0M85.5 456.3h0M86.8 405.1h0M97.8 404.5h0M82.6 406.8h0M73.4 387.7h0M101.0 443.3h0M80.2 360.7h0M75.4 376.1h0M91.8 435.0h0M88.1 442.7h0M88.3 431.8h0M83.4 421.8h0M72.1 410.8h0M81.5 419.7h0M91.9 420.2h0M91.7 418.3h0M72.1 418.1h0M96.1 431.2h0M85.4 422.1h0M97.3 449.1h0M90.1 410.9h0M85.1 412.6h0M96.4 429.5h0M87.2 414.4h0M93.0 431.8h0M87.6 437.6h0M101.4 433.5h0M80.9 444.8h0M88.9 424.2h0M81.1 418.5h0M81.5 424.2h0M74.3 418.5h0M81.0 410.3h0M101.3 437.3h0M76.9 450.7h0M83.1 452.6h0M78.6 398.9h0M86.1 422.2h0M78.8 452.8h0M85.7 454.2h0M84.3 420.4h0M95.8 421.8h0M95.8 452.5h0M88.8 440.9h0M95.2 406.4h0M78.0 377.9h0M80.4 408.3h0M80.2 446.8h0M95.0 435.7h0M76.8 433.1h0M92.5 402.8h0M76.2 435.0h0M95.0 450.3h0M91.6 419.8h0M75.4 410.4h0M82.6 456.6h0M92.5 450.5h0M78.0 416.6h0M82.5 425.7h0M97.7 414.0h0M101.2 425.8h0M80.8 450.4h0M98.5 431.5h0M87.4 383.6h0M100.9 450.6h0M96.6 424.0h0M78.0 402.6h0M96.5 422.2h0M103.7 456.0h0M76.4 428.0h0M86.2 454.5h0M87.6 372.7h0M94.0 452.4h0M78.8 450.3h0M75.3 420.0h0M97.9 412.2h0M82.4 431.9h0M85.7 437.2h0M93.7 449.1h0M102.7 444.6h0M97.7 448.7h0M91.7 445.2h0M86.1 442.7h0M96.3 450.3h0M90.8 429.5h0M86.6 358.9h0M85.0 450.7h0M97.2 452.6h0M84.9 443.3h0M83.6 448.5h0M73.7 400.7h0M77.4 397.1h0M75.4 435.7h0M90.4 427.5h0M100.2 431.2h0M89.0 418.1h0M76.5 401.0h0M89.2 427.7h0M97.2 439.4h0M75.3 429.9h0M81.6 427.5h0M89.8 456.3h0M88.6 389.4h0M100.9 440.9h0M87.0 439.5h0M91.6 410.8h0M87.9 444.9h0M91.9 452.7h0M76.4 441.1h0M80.2 400.8h0M93.3 412.2h0M100.2 429.7h0M78.0 374.5h0M97.8 406.6h0M76.7 448.7h0M86.8 410.8h0M75.0 400.8h0M96.9 431.8h0M96.4 410.6h0M92.3 444.8h0M87.3 424.0h0M86.9 408.4h0M77.2 406.4h0M95.3 408.5h0M76.0 445.3h0M92.5 381.7h0M86.7 433.4h0M74.6 403.1h0M90.0 402.8h0M91.8 398.8h0M77.0 400.9h0M90.6 431.4h0M76.7 412.3h0M88.5 414.5h0M92.6 427.9h0M89.4 450.5h0M78.6 439.1h0M93.1 358.6h0M80.9 408.9h0M87.4 454.5h0M101.3 427.4h0M82.1 441.2h0M73.7 420.4h0M81.3 450.5h0M95.9 456.4h0M77.9 410.2h0M76.8 421.9h0M94.7 423.7h0M74.5 426.1h0M94.9 447.1h0M87.3 405.2h0M83.9 447.1h0M102.7 450.2h0M93.1 412.6h0M96.2 445.1h0M93.2 402.9h0M92.2 422.0h0M87.4 412.6h0M95.9 416.3h0M88.5 429.3h0M93.6 404.7h0M84.9 405.0h0M74.0 437.1h0M79.2 381.7h0M90.2 379.8h0M97.5 439.1h0M81.4 449.0h0M88.9 364.5h0M101.2 429.7h0M90.2 454.1h0M92.6 439.4h0M81.3 429.6h0M78.2 450.8h0M75.4 372.4h0M88.7 450.8h0M73.5 435.5h0M92.9 397.1h0M95.6 431.5h0M77.7 420.4h0M100.3 447.2h0M85.4 449.1h0M88.9 391.7h0M83.9 448.4h0M96.1 452.8h0M82.6 397.4h0M86.9 456.6h0M87.8 404.7h0M94.0 425.5h0M74.2 410.4h0M101.8 446.9h0M84.8 450.9h0M88.2 439.4h0M79.3 435.3h0M88.4 393.5h0M85.7 410.2h0M95.4 422.2h0M86.3 431.5h0M74.8 425.9h0M91.5 384.0h0M90.7 448.6h0M76.4 435.0h0M85.9 433.3h0M95.9 393.5h0M78.2 384.1h0M89.0 431.8h0M92.4 399.3h0M94.8 397.5h0M83.2 426.1h0M91.8 450.5h0M90.9 444.9h0M78.3 446.8h0M80.8 421.8h0M89.5 408.7h0M78.6 431.8h0M77.6 433.2h0M74.7 443.0h0M80.3 454.8h0M79.6 435.1h0M84.1 445.1h0M88.1 452.3h0M99.6 416.4h0M96.6 429.9h0M89.3 414.4h0M95.6 400.6h0M82.2 398.8h0M89.0 450.8h0M101.1 454.3h0M94.7 446.8h0M83.0 437.3h0M83.8 391.8h0M88.5 446.9h0M79.6 446.7h0M80.0 448.6h0M81.5 446.8h0M92.2 395.4h0M82.3 393.5h0M80.6 445.1h0M100.6 437.5h0M89.1 362.8h0M78.4 444.7h0M99.5 437.5h0M92.3 441.3h0M83.1 412.2h0M83.2 396.9h0M97.7 407.0h0M98.2 433.8h0M96.4 420.4h0M83.5 408.6h0M72.9 436.9h0M72.5 405.1h0M84.6 415.9h0M73.9 402.8h0M89.9 387.6h0M89.5 431.3h0M86.7 393.2h0M81.9 437.4h0M86.8 395.5h0M98.9 412.1h0M93.6 414.2h0M78.9 441.2h0M83.7 416.5h0M80.7 393.3h0M93.2 410.2h0M86.1 427.4h0M77.1 441.2h0M89.3 412.1h0M93.8 446.8h0M87.4 420.2h0M85.3 408.6h0M79.1 445.0h0M99.9 435.3h0M72.7 412.3h0M84.9 445.0h0M82.2 450.4h0M86.4 452.5h0M88.3 418.0h0M78.1 389.7h0M83.6 423.7h0M87.1 427.6h0M89.9 452.6h0M95.3 433.6h0M101.4 425.7h0M79.2 423.7h0M86.6 400.9h0M100.9 431.5h0M87.7 399.1h0M91.7 429.6h0M87.9 429.4h0M89.0 431.2h0M94.7 456.2h0M79.7 447.1h0M75.6 442.9h0M87.5 454.2h0M95.0 431.6h0M83.0 360.8h0M97.2 421.7h0M90.6 421.6h0M93.3 356.9h0M85.4 408.9h0M92.2 425.6h0M82.0 428.1h0M104.5 452.3h0M76.9 420.2h0M96.5 431.5h0M92.8 452.6h0M96.5 407.0h0M95.9 402.9h0M83.4 440.7h0M76.1 393.4h0M81.2 450.8h0M74.4 437.0h0M80.0 416.0h0M102.9 444.7h0M79.3 427.5h0M79.4 443.0h0M87.0 423.9h0M94.1 439.2h0M101.7 444.7h0M80.0 424.0h0M83.2 420.4h0M81.3 410.8h0M81.4 385.7h0M98.6 452.5h0M78.9 439.1h0M73.3 427.8h0M97.0 408.6h0M85.8 452.5h0M91.4 425.8h0M84.0 370.3h0M77.9 443.2h0M92.8 435.5h0M89.5 445.0h0M73.1 439.1h0M87.4 456.6h0M95.9 442.8h0M91.6 372.7h0M79.8 456.6h0M84.6 398.8h0M95.4 410.6h0M92.2 399.4h0M74.0 429.9h0M44.5 383.3h0M49.4 409.6h0M60.4 364.2h0M58.5 385.7h0M67.7 369.0h0M65.3 402.4h0M54.2 397.6h0M72.6 361.8h0M51.8 433.4h0M93.5 354.7h0M91.6 358.0h0" stroke="#a9a9a9" stroke-width="2.9" stroke-linecap="round" fill="none"/>
<path d="M123.9 429.9h0M123.3 439.4h0M128.9 357.1h0M116.3 429.5h0M131.5 398.7h0M124.6 381.9h0M113.8 454.7h0M121.3 439.5h0M117.0 410.7h0M117.6 441.2h0M133.8 370.6h0M112.7 435.0h0M114.0 454.1h0M130.4 445.3h0M134.9 418.1h0M128.8 450.4h0M112.0 454.6h0M124.3 408.4h0M135.3 433.3h0M110.6 448.4h0M130.4 431.3h0M113.6 442.8h0M131.5 420.0h0M122.1 429.3h0M134.6 437.5h0M138.4 368.4h0M139.3 429.7h0M133.6 370.3h0M120.0 416.2h0M134.7 421.8h0M137.7 441.2h0M113.8 446.4h0M126.5 456.3h0M136.6 368.2h0M123.2 408.8h0M116.4 437.4h0M139.2 450.7h0M134.6 456.5h0M131.6 397.3h0M123.6 428.0h0M129.7 450.6h0M128.3 437.4h0M132.6 406.9h0M124.7 420.1h0M120.2 454.5h0M136.9 425.9h0M135.7 450.3h0M136.5 437.2h0M135.4 410.2h0M117.7 418.0h0M123.5 456.2h0M136.0 391.7h0M124.8 439.1h0M114.8 441.1h0M117.0 433.8h0M126.2 447.0h0M133.0 445.2h0M110.9 429.8h0M133.3 399.4h0M117.9 437.1h0M120.5 425.5h0M138.5 452.2h0M129.8 416.5h0M130.5 399.3h0M121.6 454.7h0M126.1 427.8h0M135.2 399.1h0M139.4 398.9h0M127.9 389.6h0M122.0 398.9h0M109.2 445.2h0M133.6 406.4h0M123.8 420.4h0M116.7 440.7h0M131.6 439.1h0M131.3 356.8h0M117.6 438.9h0M122.2 402.5h0M113.1 445.3h0M125.4 437.3h0M130.4 454.6h0M131.4 446.8h0M126.7 454.1h0M116.9 437.6h0M123.8 407.0h0M116.6 456.5h0M131.4 399.4h0M125.4 370.3h0M131.7 408.6h0M116.4 435.0h0M130.6 446.7h0M127.9 381.7h0M137.9 441.3h0M135.4 439.3h0M113.0 431.4h0M133.2 433.4h0M121.1 402.9h0M108.1 448.6h0M128.8 404.7h0M113.7 447.0h0M111.8 456.3h0M134.6 374.1h0M124.1 401.0h0M133.9 417.8h0M135.2 360.9h0M120.2 393.2h0M138.9 383.8h0M134.2 454.4h0M131.3 397.1h0M117.9 400.7h0M119.7 448.9h0M122.4 440.9h0M135.9 362.4h0M123.1 452.9h0M133.0 353.2h0M116.3 435.6h0M117.2 424.2h0M119.6 448.4h0M127.2 408.3h0M116.6 406.9h0M110.3 456.4h0M130.1 403.1h0M128.2 408.3h0M135.3 389.5h0M134.6 429.6h0M120.8 443.3h0M125.9 437.1h0M125.9 441.5h0M133.8 409.0h0M122.1 422.1h0M134.8 378.1h0M130.4 449.1h0M138.1 393.0h0M133.6 448.4h0M122.9 425.7h0M123.0 416.0h0M136.2 448.9h0M119.0 452.6h0M133.2 421.8h0M137.2 354.9h0M130.7 446.8h0M121.5 429.7h0M127.6 456.5h0M138.7 395.2h0M124.1 389.4h0M123.3 452.6h0M114.3 433.7h0M132.3 431.3h0M122.0 405.1h0M115.8 435.3h0M122.0 431.2h0M119.1 431.7h0M118.9 406.7h0M136.2 429.6h0M124.7 376.1h0M134.2 372.5h0M108.0 448.8h0M139.1 452.6h0M131.0 375.8h0M136.0 410.4h0M126.3 443.1h0M130.5 435.0h0M133.7 421.6h0M123.4 418.1h0M136.0 389.7h0M128.2 431.8h0M131.2 425.8h0M119.0 440.7h0M136.6 408.8h0M120.3 442.9h0M134.1 429.2h0M136.1 456.2h0M121.1 405.2h0M136.7 378.2h0M126.1 416.6h0M117.1 436.9h0M130.5 404.9h0M134.4 397.0h0M134.3 380.1h0M122.4 395.2h0M110.8 435.6h0M134.0 410.9h0M131.7 433.1h0M117.2 441.2h0M133.3 404.4h0M119.3 391.6h0M123.3 446.6h0M138.0 382.1h0M122.2 395.5h0M118.5 424.0h0M126.1 420.2h0M121.7 381.6h0M133.6 439.3h0M138.0 402.8h0M133.7 381.8h0M133.2 374.2h0M138.4 454.2h0M128.9 437.4h0M140.0 374.0h0M131.5 382.0h0M113.9 441.1h0M120.8 439.3h0M133.0 452.6h0M112.2 437.6h0M121.3 412.3h0M131.8 406.5h0M120.7 452.5h0M126.1 395.2h0M112.6 421.8h0M138.4 424.2h0M121.5 387.3h0M113.1 435.5h0M139.4 360.7h0M135.0 359.0h0M114.7 437.5h0M128.6 456.0h0M117.5 454.1h0M131.2 408.6h0M111.9 450.9h0M129.6 456.2h0M139.4 410.2h0M120.3 391.5h0M127.6 439.3h0M128.5 442.9h0M119.4 424.1h0M110.0 437.3h0M139.8 387.9h0M112.7 454.2h0M137.6 446.8h0M121.4 419.7h0M121.4 450.4h0M114.5 454.1h0M127.8 395.1h0M125.4 389.2h0M121.4 448.7h0M113.7 416.1h0M116.5 417.8h0M129.3 454.3h0M135.4 374.4h0M136.2 441.0h0M132.9 399.3h0M135.7 387.9h0M115.6 431.3h0M129.9 387.8h0M123.9 387.6h0M130.8 412.6h0M133.4 437.1h0M122.4 437.5h0M124.8 446.5h0M137.2 446.9h0M128.9 446.7h0M131.9 389.2h0M139.4 412.7h0M137.8 389.3h0M113.0 441.2h0M114.0 414.3h0M112.4 454.5h0M139.3 450.5h0M118.4 435.7h0M121.9 452.3h0M135.3 360.8h0M134.2 389.5h0M121.7 445.0h0M124.9 414.3h0M131.6 448.7h0M134.5 456.2h0M119.1 449.0h0M118.9 408.6h0M133.7 421.8h0M123.6 412.6h0M135.1 429.5h0M125.1 456.4h0M112.0 431.7h0M124.2 433.4h0M128.7 427.9h0M126.8 433.1h0M134.8 405.1h0M120.9 450.5h0M120.8 412.2h0M133.9 403.1h0M124.3 381.5h0M119.1 418.3h0M124.7 431.6h0M139.9 395.5h0M135.9 435.5h0M126.3 442.6h0M117.7 422.0h0M129.3 420.1h0M111.6 431.4h0M113.6 429.9h0M113.3 418.4h0M124.4 410.2h0M136.6 387.8h0M124.8 435.0h0M120.3 435.5h0M137.8 398.8h0M135.9 425.5h0M128.6 456.5h0M125.6 379.6h0M110.3 439.4h0M119.3 427.9h0M132.4 427.7h0M133.7 370.8h0M137.9 448.6h0M130.1 395.3h0M133.6 408.8h0M121.3 404.9h0M124.7 443.0h0M126.1 423.5h0M114.4 438.8h0M135.7 423.7h0M137.4 444.9h0M137.5 385.7h0M127.7 454.2h0M127.3 431.7h0M121.9 385.6h0M120.6 456.0h0M124.4 437.1h0M120.2 435.2h0M129.5 397.3h0M108.5 445.2h0M128.5 391.5h0M115.0 418.4h0M125.7 456.1h0M116.7 456.1h0M120.6 429.4h0M123.1 445.0h0M124.8 433.3h0M119.7 452.3h0M119.3 395.2h0M137.2 402.5h0M136.6 456.6h0M134.4 439.5h0M138.3 449.0h0M118.5 437.6h0M124.9 406.7h0M135.8 387.7h0M114.6 422.2h0M124.8 444.8h0M132.4 353.5h0M138.6 448.4h0M134.6 433.4h0M110.1 452.6h0M131.7 429.8h0M133.9 412.2h0M113.3 450.5h0M137.8 450.8h0M128.0 374.0h0M122.5 450.6h0M123.8 450.5h0M128.6 454.1h0M128.6 381.7h0M132.4 395.6h0M135.5 416.1h0M117.4 456.2h0M112.2 449.1h0M119.7 395.3h0M123.2 446.6h0M128.7 412.8h0M118.5 414.0h0M125.8 448.8h0M122.6 437.1h0M137.8 426.0h0M132.6 437.0h0M129.3 402.9h0M137.8 444.9h0M129.2 421.8h0M135.1 386.1h0M124.7 402.7h0M135.4 422.2h0M122.6 433.2h0M125.4 400.8h0M131.9 454.4h0M128.5 431.3h0M118.8 442.8h0M122.8 449.0h0M115.9 410.8h0M112.9 452.6h0M139.8 389.5h0M116.9 435.6h0M118.3 438.9h0M122.6 452.2h0M113.9 418.0h0M125.1 454.4h0M133.9 374.0h0M116.9 456.2h0M128.0 407.0h0M127.8 412.2h0M124.0 425.9h0M118.9 414.5h0M129.4 419.7h0M132.8 410.2h0M132.9 428.1h0M130.5 448.6h0M130.1 355.1h0M138.7 401.1h0M122.0 448.5h0M135.1 452.2h0M131.4 416.1h0M130.4 433.3h0M127.8 370.7h0M124.8 386.0h0M120.5 431.2h0M113.2 437.5h0M124.5 456.2h0M137.3 448.4h0M139.3 408.8h0M131.7 389.7h0M129.1 448.5h0M132.4 408.3h0M132.9 450.3h0M130.2 418.3h0M112.6 437.6h0M117.6 431.9h0M138.7 443.4h0M121.2 433.6h0M131.5 452.4h0M133.5 456.7h0M123.7 426.0h0M118.7 451.0h0M112.9 450.9h0M137.6 448.9h0M136.6 452.5h0M137.5 435.7h0M119.3 397.3h0M132.5 452.3h0M137.0 408.8h0M135.2 448.6h0M112.5 449.0h0M130.5 429.7h0M119.4 412.4h0M122.9 442.8h0M116.7 421.9h0M131.2 364.4h0M122.1 424.2h0M109.9 452.8h0M127.3 440.9h0M129.8 433.5h0M113.5 433.6h0M134.4 425.5h0M130.9 448.7h0M139.6 424.2h0M116.9 400.7h0M138.3 372.4h0M137.7 376.5h0M110.7 431.5h0M133.6 431.8h0M134.4 450.5h0M111.0 456.3h0M114.0 419.7h0M115.1 425.6h0M139.1 429.8h0M117.5 442.9h0M138.3 399.4h0M114.3 454.7h0M133.5 448.9h0M136.5 456.1h0M130.0 387.7h0M125.1 389.6h0M132.0 365.0h0M122.8 438.9h0M119.6 452.8h0M118.2 450.3h0M131.8 366.6h0M139.9 397.3h0M117.6 414.1h0M116.3 433.3h0M138.1 431.5h0M123.0 408.5h0M118.3 427.6h0M112.6 429.7h0M136.4 376.0h0M130.7 425.8h0M115.7 427.8h0M136.7 383.8h0M127.8 433.1h0M112.7 431.3h0M117.9 431.2h0M119.1 435.3h0M130.7 436.9h0M136.6 374.6h0M122.8 437.6h0M137.6 440.7h0M106.8 456.4h0M123.2 452.2h0M136.8 408.6h0M121.3 423.6h0M110.0 450.7h0M112.1 439.0h0M115.6 420.2h0M126.0 433.1h0M119.9 446.9h0M109.0 450.9h0M125.5 383.5h0M138.4 425.8h0M122.2 454.1h0M123.5 393.6h0M135.8 414.4h0M136.7 372.0h0M139.2 420.0h0M106.4 456.0h0M115.8 412.5h0M113.9 431.6h0M108.3 452.5h0M112.7 425.5h0M134.8 431.3h0M117.2 398.9h0M121.8 385.9h0M117.5 431.2h0M137.5 402.6h0M120.0 431.6h0M117.3 424.0h0M123.5 435.3h0M112.0 446.5h0M112.7 452.3h0M138.7 421.9h0M124.1 389.2h0M110.1 456.4h0M139.0 454.3h0M134.9 362.5h0M110.4 454.8h0M108.4 448.4h0M114.9 430.0h0M111.4 454.2h0M120.1 441.0h0M139.4 452.5h0M117.4 410.2h0M132.2 416.1h0M110.9 449.0h0M127.9 414.7h0M118.8 422.3h0M137.7 367.0h0M122.7 454.2h0M131.8 456.5h0M136.4 454.8h0M131.2 444.6h0M118.1 443.0h0M117.4 410.6h0M135.3 429.8h0M108.2 452.5h0M120.3 439.1h0M114.1 443.3h0M124.4 389.2h0M139.0 393.2h0M123.4 408.5h0M114.7 416.4h0M134.1 441.2h0M121.4 443.0h0M112.5 456.3h0M138.6 410.7h0M133.5 430.0h0M120.8 445.0h0M123.8 395.0h0M111.2 437.4h0M114.3 427.6h0M129.0 420.2h0M136.2 437.4h0M126.7 444.8h0M128.0 415.9h0M137.1 431.5h0M121.0 425.6h0M121.5 444.7h0M122.3 446.7h0M115.2 422.3h0M137.8 443.2h0M135.3 378.3h0M138.3 414.6h0M127.1 360.7h0M118.6 448.7h0M111.4 444.7h0M128.7 416.5h0M137.8 416.2h0M116.8 450.3h0M113.5 454.7h0M130.6 444.5h0M138.0 361.3h0M121.8 420.2h0M120.9 448.6h0M134.1 433.7h0M121.4 422.1h0M120.3 452.2h0M135.3 456.6h0M122.6 435.2h0M125.0 454.8h0M120.5 431.3h0M128.6 406.9h0M112.0 443.0h0M127.0 450.7h0M136.5 399.2h0M135.4 427.8h0M116.1 447.1h0M130.4 410.3h0M120.9 454.1h0M115.0 437.3h0M139.8 382.1h0M121.4 437.4h0M139.1 399.4h0M125.7 405.0h0M118.0 417.8h0M118.9 410.8h0M126.3 431.6h0M111.2 433.3h0M130.3 416.6h0M129.8 442.6h0M125.6 374.4h0M126.2 397.0h0M137.7 454.5h0M125.0 410.3h0M133.5 441.3h0M126.1 446.5h0M121.7 389.4h0M134.3 393.7h0M133.7 443.2h0M138.9 446.6h0M119.5 435.0h0M116.3 420.2h0M137.5 422.1h0M133.2 387.5h0M130.0 433.2h0M136.0 427.9h0M138.5 421.7h0M131.9 402.6h0M121.0 423.6h0M133.5 431.2h0M126.9 368.2h0M128.0 454.7h0M116.7 442.7h0M125.4 396.9h0M136.0 442.8h0M136.2 450.6h0M120.8 442.7h0M125.1 408.7h0M136.5 445.2h0M133.3 452.4h0M116.2 456.4h0M127.8 449.1h0M121.7 447.1h0M124.8 441.4h0M129.0 444.8h0M118.5 429.4h0M133.5 368.6h0M134.2 429.4h0M129.3 414.7h0M120.9 427.7h0M122.8 456.7h0M117.8 435.7h0M122.7 393.6h0M137.1 368.8h0M137.6 427.9h0M129.1 374.3h0M138.0 416.3h0M119.4 454.7h0M125.8 452.4h0M135.6 445.2h0M114.4 447.0h0M122.3 414.3h0M127.4 403.1h0M134.5 442.7h0M130.6 372.2h0M130.9 395.6h0M121.1 437.1h0M126.0 439.5h0M138.5 378.3h0M132.0 418.1h0M111.9 425.8h0M130.5 379.9h0M130.8 404.5h0M140.2 368.3h0M139.0 425.8h0M123.8 437.1h0M134.0 446.9h0M117.0 444.9h0M117.8 414.5h0M140.5 370.5h0M127.5 439.2h0M134.8 385.5h0M127.6 393.2h0M134.4 447.1h0M136.0 422.2h0M115.6 446.8h0M126.9 422.2h0M120.9 385.8h0M132.4 389.8h0M139.3 416.1h0M127.8 402.7h0M135.2 449.0h0M136.6 437.3h0M116.7 433.1h0M133.5 454.4h0M116.0 404.6h0M121.3 418.2h0M117.0 402.7h0M119.8 414.3h0M130.6 428.0h0M136.7 370.5h0M119.6 417.9h0M136.9 356.8h0M118.8 446.7h0M109.7 442.7h0M117.8 400.9h0M127.7 399.0h0M125.5 416.1h0M125.0 414.0h0M126.0 456.7h0M136.9 433.2h0M109.1 440.9h0M120.3 406.4h0M110.8 452.3h0M128.8 431.8h0M132.1 422.0h0M130.4 444.9h0M131.6 442.7h0M123.7 382.0h0M129.4 431.2h0M121.2 452.3h0M137.7 442.9h0M136.6 454.3h0M132.3 448.9h0M135.2 450.7h0M134.2 357.4h0M132.9 420.2h0M122.8 442.7h0M134.9 387.8h0M133.6 446.8h0M120.5 428.1h0M138.4 387.6h0M133.5 391.5h0M136.2 439.4h0M120.7 393.5h0M129.9 449.0h0M127.7 452.8h0M128.9 416.2h0M108.1 456.4h0M127.4 437.6h0M117.5 410.9h0M134.1 360.9h0M153.5 361.8h0M151.0 376.2h0M148.6 414.3h0M154.7 423.9h0M130.8 353.3h0M136.3 356.1h0M146.1 443.0h0" stroke="#86c9e9" stroke-width="2.9" stroke-linecap="round" fill="none"/>
<line x1="103.7" y1="346.1" x2="103.7" y2="464.8" stroke="#6ab8e0" stroke-width="0.9" stroke-dasharray="1.2,1.8"/>
<line x1="107.2" y1="346.1" x2="107.2" y2="464.8" stroke="#6ab8e0" stroke-width="0.9" stroke-dasharray="1.2,1.8"/>
<line x1="37.4" y1="457.31" x2="162.4" y2="457.31" stroke="#000" stroke-width="1.1" stroke-dasharray="1.3,2.6"/>
<line x1="111" y1="374" x2="122" y2="390" stroke="#76c4e6" stroke-width="1.1"/>
<line x1="86" y1="405" x2="112" y2="424" stroke="#76c4e6" stroke-width="1.1"/>
<line x1="83" y1="438" x2="104" y2="441.5" stroke="#76c4e6" stroke-width="1.1"/>
<line x1="147" y1="426" x2="137" y2="432" stroke="#76c4e6" stroke-width="1.1"/>
<line x1="140" y1="356" x2="135" y2="372" stroke="#76c4e6" stroke-width="1.1"/>
<text x="146.4" y="355.6" font-size="10.2" text-anchor="middle">Il2ra</text>
<text x="108.7" y="373.3" font-size="10.2" text-anchor="middle">Ctla4</text>
<text x="142.7" y="398.1" font-size="10.2" text-anchor="middle">Havcr2</text>
<text x="125.3" y="410.6" font-size="10.2" text-anchor="middle">Irf4</text>
<text x="77" y="409.3" font-size="10.2" text-anchor="middle">Tgfb1</text>
<text x="127.8" y="423.4" font-size="10.2" text-anchor="middle">Helios</text>
<text x="153.9" y="428.4" font-size="10.2" text-anchor="middle">Il10</text>
<text x="114.2" y="437.3" font-size="10.2" text-anchor="middle">Ikzf4</text>
<text x="75" y="441.6" font-size="10.2" text-anchor="middle">A2a</text>
<text x="147.7" y="444" font-size="10.2" text-anchor="middle">Pdcd1</text>
<text x="103.7" y="454" font-size="10.2" text-anchor="middle">Lag3</text>
<text x="129" y="455.2" font-size="10.2" text-anchor="middle">Tigit</text>
<rect x="37.4" y="346.1" width="125" height="118.7" fill="none" stroke="#000" stroke-width="1.7"/>
<line x1="34.8" y1="447.76" x2="37.4" y2="447.76" stroke="#000" stroke-width="1"/>
<text x="34.1" y="451.46" font-size="10.3" text-anchor="end">1.5</text>
<line x1="34.8" y1="423.89" x2="37.4" y2="423.89" stroke="#000" stroke-width="1"/>
<text x="34.1" y="427.59" font-size="10.3" text-anchor="end">2.0</text>
<line x1="34.8" y1="400.03" x2="37.4" y2="400.03" stroke="#000" stroke-width="1"/>
<text x="34.1" y="403.73" font-size="10.3" text-anchor="end">2.5</text>
<line x1="34.8" y1="376.17" x2="37.4" y2="376.17" stroke="#000" stroke-width="1"/>
<text x="34.1" y="379.87" font-size="10.3" text-anchor="end">3.0</text>
<line x1="34.8" y1="352.3" x2="37.4" y2="352.3" stroke="#000" stroke-width="1"/>
<text x="34.1" y="356" font-size="10.3" text-anchor="end">3.5</text>
<line x1="44.45" y1="464.8" x2="44.45" y2="467.4" stroke="#000" stroke-width="1"/>
<text x="44.45" y="475.4" font-size="10.2" text-anchor="middle">-5.0</text>
<line x1="75.08" y1="464.8" x2="75.08" y2="467.4" stroke="#000" stroke-width="1"/>
<text x="75.08" y="475.4" font-size="10.2" text-anchor="middle">-2.5</text>
<line x1="105.7" y1="464.8" x2="105.7" y2="467.4" stroke="#000" stroke-width="1"/>
<text x="105.7" y="475.4" font-size="10.2" text-anchor="middle">0.0</text>
<line x1="136.32" y1="464.8" x2="136.32" y2="467.4" stroke="#000" stroke-width="1"/>
<text x="136.32" y="475.4" font-size="10.2" text-anchor="middle">2.5</text>
<text x="106" y="486.8" font-size="11.4" text-anchor="middle">log2FC</text>
<text x="105.5" y="342.2" font-size="12.5" text-anchor="middle">H3K9la</text>
<path d="M232.7 417.7h0M240.5 450.1h0M225.3 388.4h0M234.5 423.3h0M230.3 450.0h0M237.6 415.7h0M234.6 432.9h0M222.3 423.0h0M221.0 405.7h0M233.4 436.5h0M227.8 453.7h0M230.0 451.6h0M219.1 367.5h0M233.3 442.6h0M222.6 436.4h0M237.1 448.1h0M234.1 452.2h0M230.2 403.8h0M226.1 458.0h0M229.2 442.7h0M233.8 408.0h0M236.0 394.5h0M226.6 424.9h0M233.7 413.8h0M246.0 444.1h0M239.2 421.6h0M217.7 371.3h0M241.4 446.1h0M223.9 402.4h0M236.6 428.7h0M225.5 417.2h0M226.2 446.0h0M226.9 455.6h0M228.3 428.9h0M220.4 419.2h0M228.4 394.1h0M226.3 421.6h0M221.6 394.3h0M235.2 451.9h0M222.1 432.7h0M244.0 455.5h0M239.6 444.2h0M221.6 409.4h0M241.6 440.8h0M238.5 451.6h0M244.8 457.7h0M223.9 450.0h0M216.0 382.8h0M231.8 446.4h0M225.8 434.7h0M233.6 444.7h0M234.1 444.1h0M238.6 419.2h0M227.2 400.4h0M224.3 458.1h0M221.7 377.0h0M241.4 444.1h0M233.3 426.8h0M226.0 453.7h0M236.3 442.2h0M222.5 398.5h0M240.9 438.6h0M223.9 419.2h0M247.2 451.8h0M246.6 450.1h0M227.2 457.7h0M242.4 455.8h0M234.5 421.0h0M234.3 450.2h0M244.7 455.6h0M242.0 452.2h0M224.5 442.2h0M225.3 438.2h0M233.2 415.5h0M234.3 457.4h0M224.7 407.7h0M224.1 434.4h0M223.1 444.4h0M240.9 440.4h0M235.9 409.7h0M239.6 446.0h0M223.6 417.7h0M240.3 458.1h0M237.4 455.9h0M227.7 449.9h0M239.2 432.5h0M236.5 440.1h0M226.0 436.5h0M227.2 409.6h0M225.3 453.9h0M222.4 415.5h0M229.2 457.6h0M229.7 407.6h0M224.8 413.6h0M224.2 405.6h0M221.7 433.1h0M226.9 446.0h0M223.7 427.2h0M242.8 436.6h0M229.8 388.3h0M249.9 457.4h0M235.1 413.3h0M234.1 429.3h0M233.3 444.2h0M237.3 409.6h0M228.8 415.4h0M228.6 430.5h0M212.5 375.1h0M235.0 438.5h0M225.4 431.0h0M237.4 446.4h0M241.6 426.9h0M224.1 429.1h0M233.1 410.1h0M236.7 444.3h0M228.0 396.1h0M226.5 442.3h0M229.6 413.5h0M226.9 411.8h0M221.1 426.9h0M232.7 390.3h0M222.6 446.3h0M234.7 438.2h0M241.9 457.8h0M220.8 375.4h0M245.5 444.4h0M232.1 444.7h0M239.1 413.9h0M221.1 392.1h0M223.5 410.0h0M221.6 422.9h0M244.4 458.0h0M231.3 390.7h0M228.0 426.7h0M240.0 426.7h0M226.3 410.1h0M225.9 450.1h0M232.2 413.7h0M229.6 440.1h0M232.2 417.1h0M227.7 421.5h0M231.4 457.9h0M236.0 433.1h0M240.7 428.8h0M224.7 438.8h0M232.1 434.8h0M234.5 423.0h0M231.4 404.3h0M227.3 369.7h0M231.3 451.6h0M224.9 410.0h0M232.2 446.1h0M243.9 452.2h0M245.0 442.3h0M225.6 458.1h0M235.8 442.6h0M231.6 444.2h0M233.9 448.2h0M236.0 440.3h0M230.5 409.5h0M238.3 432.7h0M229.8 432.8h0M224.5 422.9h0M227.7 446.5h0M226.2 448.4h0M236.2 413.7h0M236.9 406.1h0M236.3 415.4h0M222.7 434.9h0M226.6 412.0h0M232.4 457.8h0M223.1 438.9h0M241.0 434.6h0M230.6 436.8h0M238.8 453.7h0M234.1 457.8h0M238.3 404.1h0M236.6 456.2h0M220.6 392.4h0M233.2 426.9h0M234.0 435.1h0M229.4 392.5h0M243.0 444.0h0M238.3 421.6h0M233.6 390.8h0M223.5 429.2h0M228.3 392.1h0M223.7 435.1h0M238.4 419.5h0M243.8 449.7h0M239.8 427.2h0M223.3 401.8h0M239.6 415.1h0M233.5 440.6h0M247.6 448.3h0M232.5 426.7h0M241.8 430.9h0M226.4 453.8h0M225.7 425.4h0M229.5 438.3h0M224.3 442.7h0M228.7 420.9h0M238.3 451.9h0M238.6 417.3h0M247.0 450.2h0M244.2 452.3h0M231.4 386.3h0M237.0 429.2h0M243.9 454.2h0M240.0 442.2h0M233.2 444.1h0M235.6 454.0h0M220.0 371.0h0M235.9 457.7h0M226.7 440.2h0M214.9 385.1h0M241.0 432.8h0M242.1 448.5h0M218.1 382.6h0M239.2 458.0h0M238.0 434.4h0M237.1 452.3h0M230.8 454.1h0M223.7 451.9h0M251.0 455.6h0M234.3 415.8h0M223.5 427.3h0M236.9 423.5h0M226.4 428.9h0M227.9 398.0h0M224.8 396.6h0M240.8 455.8h0M225.1 456.1h0M241.5 434.8h0M228.1 432.5h0M231.1 434.9h0M240.0 448.5h0M225.9 442.7h0M235.9 411.9h0M220.6 390.8h0M234.0 430.7h0M231.2 444.5h0M231.4 406.1h0M239.0 415.2h0M244.9 454.2h0M237.2 417.4h0M222.7 386.7h0M227.7 394.1h0M242.0 438.3h0M241.5 440.3h0M232.9 411.7h0M230.3 375.5h0M238.4 429.1h0M241.0 452.0h0M237.5 432.6h0M237.0 407.6h0M228.4 375.3h0M245.5 444.2h0M239.6 440.7h0M234.8 446.5h0M234.9 417.5h0M242.0 450.2h0M231.9 438.2h0M229.8 396.3h0M229.2 411.3h0M235.5 409.8h0M213.6 375.5h0M231.0 423.1h0M223.6 392.1h0M241.2 447.8h0M229.4 445.9h0M233.9 440.5h0M247.1 453.6h0M246.3 450.4h0M233.4 431.2h0M235.5 419.0h0M237.6 453.7h0M242.3 436.9h0M250.7 454.0h0M231.5 452.1h0M241.9 455.7h0M228.3 450.3h0M239.4 430.8h0M242.3 453.8h0M249.2 455.8h0M221.4 419.5h0M224.1 448.5h0M234.8 444.7h0M233.8 419.1h0M227.9 430.9h0M229.6 429.0h0M221.1 397.9h0M231.6 442.6h0M225.9 400.5h0M238.7 443.9h0M229.4 398.2h0M241.3 434.6h0M240.0 419.6h0M237.2 425.1h0M222.8 445.9h0M242.2 455.9h0M225.1 423.2h0M238.8 408.0h0M227.6 438.5h0M230.1 438.8h0M222.0 371.0h0M226.4 448.3h0M239.8 446.4h0M231.4 453.6h0M229.5 449.7h0M219.1 386.7h0M228.8 442.1h0M233.0 413.5h0M242.8 432.6h0M217.6 367.3h0M224.6 425.3h0M234.2 432.9h0M234.6 451.9h0M223.5 436.3h0M235.3 449.8h0M249.2 455.6h0M237.9 434.8h0M224.8 413.9h0M248.9 451.7h0M244.7 453.9h0M236.8 450.2h0M230.5 390.4h0M226.8 442.1h0M245.3 452.4h0M230.5 406.2h0M225.8 421.5h0M236.9 396.6h0M227.5 457.5h0M223.3 446.1h0M240.6 423.3h0M232.5 432.5h0M232.8 446.1h0M228.5 423.0h0M228.4 440.2h0M243.7 455.8h0M239.7 448.1h0M223.1 432.4h0M232.3 405.7h0M224.7 398.0h0M224.3 432.8h0M227.1 450.3h0M237.0 434.5h0M233.0 444.6h0M230.6 381.3h0M219.9 398.3h0M242.7 433.1h0M239.0 419.5h0M231.8 426.7h0M227.3 450.4h0M230.0 448.3h0M240.4 419.0h0M227.4 444.5h0M231.9 450.2h0M228.8 452.3h0M225.1 407.9h0M224.8 415.4h0M228.7 411.7h0M235.7 417.5h0M224.6 413.7h0M214.5 384.4h0M224.0 442.5h0M238.2 421.5h0M226.6 406.2h0M221.8 415.8h0M234.3 438.3h0M242.3 442.6h0M222.0 386.4h0M215.8 382.7h0M238.2 445.9h0M226.2 436.9h0M237.8 404.1h0M224.6 436.5h0M222.4 415.1h0M235.1 434.7h0M227.9 438.2h0M224.7 444.1h0M226.6 417.4h0M231.8 421.3h0M242.2 436.9h0M235.4 457.4h0M241.0 442.3h0M229.1 388.4h0M236.6 413.7h0M225.4 377.4h0M233.3 450.4h0M222.1 425.0h0M232.4 415.5h0M226.7 398.2h0M226.5 431.0h0M228.2 367.4h0M227.5 392.8h0M224.6 446.0h0M226.0 413.4h0M226.8 427.1h0M234.0 417.6h0M221.0 390.4h0M224.7 431.2h0M241.4 436.5h0M219.3 378.7h0M225.4 440.7h0M237.8 442.3h0M231.0 378.8h0M234.3 427.3h0M235.3 448.5h0M221.1 409.5h0M224.6 420.9h0M233.9 383.0h0M225.1 458.0h0M237.1 436.6h0M227.1 452.3h0M232.1 402.4h0M223.2 417.3h0M232.7 446.4h0M220.4 421.5h0M237.3 440.7h0M223.8 432.8h0M237.7 440.8h0M227.1 417.6h0M221.2 432.7h0M235.7 408.1h0M238.8 442.5h0M241.4 453.8h0M236.6 452.1h0M223.3 446.6h0M231.3 434.4h0M235.5 413.6h0M229.8 417.5h0M225.2 411.6h0M236.9 408.0h0M233.0 432.7h0M235.6 425.0h0M235.9 446.4h0M227.4 409.9h0M232.1 427.3h0M233.9 411.4h0M227.2 423.3h0M234.0 442.5h0M223.5 371.5h0M247.9 449.7h0M231.9 384.7h0M232.1 448.2h0M228.5 438.3h0M231.2 440.5h0M216.6 363.8h0M230.4 384.9h0M225.4 446.4h0M227.0 433.1h0M244.1 451.7h0M228.1 440.8h0M222.0 407.7h0M233.1 448.0h0M224.7 423.5h0M242.8 448.5h0M236.9 432.6h0M226.8 413.3h0M225.3 406.0h0M244.4 457.4h0M229.7 406.2h0M244.9 444.5h0M243.2 448.2h0M224.3 428.9h0M225.6 434.6h0M219.9 392.6h0M225.3 409.6h0M229.9 457.4h0M236.6 440.3h0M237.9 446.4h0M237.5 411.6h0M235.3 423.2h0M225.5 381.0h0M229.1 444.0h0M222.1 379.3h0M221.9 413.8h0M232.7 455.5h0M223.8 374.9h0M226.2 455.8h0M225.8 435.0h0M242.6 434.4h0M234.6 453.9h0M238.9 448.2h0M242.9 444.5h0M221.8 419.0h0M249.3 451.9h0M246.7 446.5h0M231.6 421.3h0M235.1 444.0h0M229.6 431.1h0M233.9 455.7h0M242.8 434.6h0M220.6 369.8h0M233.5 428.7h0M219.6 376.8h0M224.1 438.2h0M214.7 371.7h0M237.4 436.3h0M228.4 457.4h0M233.3 451.9h0M242.8 446.4h0M240.4 440.5h0M225.2 455.6h0M240.7 430.9h0M223.1 446.5h0M225.6 419.4h0M228.8 400.3h0M230.8 449.9h0M231.1 444.0h0M237.2 428.7h0M227.3 398.4h0M234.8 454.1h0M239.0 457.6h0M241.8 442.5h0M224.9 425.5h0M224.8 386.9h0M243.4 457.9h0M233.1 449.8h0M222.6 406.2h0M234.9 436.3h0M239.4 453.7h0M240.1 440.5h0M235.4 402.4h0M243.0 440.5h0M216.9 388.3h0M234.4 448.4h0M230.6 434.4h0M226.1 363.7h0M223.1 429.2h0M225.2 440.5h0M234.3 392.2h0M220.1 390.7h0M229.9 411.9h0M233.1 453.8h0M232.4 433.0h0M248.8 454.1h0M226.9 456.0h0M228.3 438.9h0M224.5 447.9h0M245.2 448.4h0M223.3 396.6h0M235.5 412.0h0M235.8 438.3h0M234.1 426.8h0M225.1 447.9h0M242.7 446.2h0M223.3 440.5h0M236.2 407.7h0M235.2 394.4h0M227.3 430.6h0M241.9 444.5h0M225.6 428.7h0M234.1 396.3h0M244.1 453.6h0M230.4 398.4h0M246.3 453.7h0M233.1 455.6h0M227.2 430.7h0M247.0 453.8h0M251.3 456.1h0M244.8 452.2h0M230.4 440.2h0M230.4 427.3h0M247.5 451.8h0M231.7 425.4h0M241.7 457.8h0M222.0 430.6h0M233.7 428.9h0M243.2 457.7h0M241.3 423.5h0M236.3 430.8h0M237.4 444.2h0M236.7 448.4h0M236.7 434.5h0M236.7 411.8h0M226.9 423.1h0M236.5 451.7h0M228.9 427.3h0M227.8 436.8h0M235.2 426.8h0M240.4 448.4h0M232.2 436.9h0M228.5 442.6h0M222.5 444.1h0M228.6 394.4h0M225.8 427.4h0M238.0 415.7h0M222.8 423.5h0M223.0 424.7h0M228.3 447.8h0M228.6 427.0h0M223.8 404.2h0M233.0 386.8h0M226.6 425.4h0M231.5 413.3h0M231.8 411.4h0M236.0 447.9h0M230.3 425.0h0M227.5 435.0h0M229.5 382.6h0M222.9 415.1h0M240.5 451.9h0M237.7 402.0h0M226.8 380.9h0M227.2 421.6h0M230.1 436.3h0M232.2 396.3h0M229.7 380.8h0M227.0 415.8h0M243.8 456.1h0M234.1 394.3h0M233.0 399.8h0M229.1 419.1h0M226.4 394.0h0M215.7 371.4h0M227.6 375.4h0M223.6 432.6h0M233.6 457.5h0M228.7 419.3h0M228.1 433.0h0M229.3 432.6h0M240.4 419.6h0M239.4 434.8h0M233.8 428.6h0M233.5 410.0h0M243.7 451.9h0M230.9 436.4h0M235.0 415.8h0M231.4 396.2h0M233.2 452.3h0M243.5 453.8h0M233.4 425.3h0M225.7 452.2h0M239.8 413.3h0M245.7 458.1h0M226.0 442.2h0M238.0 452.4h0M224.0 388.5h0M232.5 453.8h0M223.8 411.4h0M222.0 409.7h0M225.5 444.6h0M228.9 438.4h0M234.8 427.3h0M234.9 438.9h0M232.9 458.0h0M238.5 420.9h0M236.6 438.5h0M234.4 396.5h0M237.1 402.2h0M229.9 423.2h0M214.0 375.4h0M231.9 405.5h0M222.3 442.5h0M240.8 436.7h0M239.5 449.8h0M232.2 450.4h0M225.2 450.0h0M239.8 436.4h0M247.5 458.0h0M247.2 447.9h0M238.7 430.8h0M249.0 452.2h0M213.1 369.5h0M224.0 394.5h0M232.2 430.6h0M241.8 425.0h0M221.5 437.0h0M232.7 451.6h0M225.1 430.7h0M234.7 458.1h0M239.9 447.9h0M224.7 455.7h0M233.3 446.0h0M227.1 438.6h0M220.4 388.8h0M244.2 458.0h0M229.9 423.3h0M229.2 426.9h0M236.2 419.3h0M231.2 405.8h0M225.7 429.3h0M248.6 456.1h0M230.2 440.8h0M241.3 450.0h0M246.2 457.5h0M243.3 443.9h0M233.2 448.3h0M224.0 436.8h0M245.9 451.6h0M237.0 430.9h0M241.8 440.4h0M227.7 442.2h0M238.4 405.8h0M234.9 422.9h0M232.6 382.8h0M231.0 427.3h0M242.0 457.4h0M223.5 425.4h0M234.1 448.5h0M235.3 394.5h0M241.1 442.0h0M244.8 452.3h0M225.9 433.0h0M225.5 371.4h0M228.5 433.1h0M222.0 415.4h0M230.2 451.9h0M228.0 436.6h0M232.7 436.9h0M238.1 422.9h0M237.1 419.4h0M238.6 445.9h0M227.7 455.5h0M229.5 442.5h0M222.4 427.4h0M234.1 436.9h0M230.8 452.3h0M240.5 446.3h0M200.5 374.7h0M207.5 398.7h0M208.6 415.5h0M204.0 405.9h0M212.2 362.7h0M219.2 362.7h0M223.8 361.7h0M227.3 362.7h0" stroke="#a9a9a9" stroke-width="2.9" stroke-linecap="round" fill="none"/>
<path d="M268.1 434.4h0M267.7 398.6h0M266.0 453.5h0M273.7 419.3h0M269.5 442.2h0M279.0 457.7h0M262.4 458.1h0M269.3 403.9h0M262.6 449.9h0M267.1 457.8h0M275.4 387.0h0M271.4 432.7h0M273.6 450.4h0M283.9 434.5h0M267.8 456.0h0M264.1 446.2h0M276.7 436.9h0M265.3 452.0h0M272.2 457.7h0M268.0 442.7h0M272.3 419.5h0M283.2 405.9h0M275.5 451.8h0M262.1 448.0h0M258.5 451.7h0M262.7 431.0h0M285.4 405.8h0M272.6 404.3h0M280.8 415.6h0M263.2 442.7h0M278.0 400.4h0M266.8 425.2h0M263.9 432.6h0M267.4 451.9h0M283.8 411.7h0M266.0 433.0h0M274.1 440.6h0M263.9 411.9h0M269.4 438.2h0M281.7 447.8h0M263.4 433.0h0M275.0 417.6h0M279.9 450.1h0M276.2 406.0h0M269.2 436.6h0M267.9 417.5h0M279.5 435.0h0M267.3 438.6h0M280.1 455.4h0M275.9 384.8h0M265.4 419.2h0M266.1 431.1h0M260.6 431.0h0M282.8 415.8h0M267.2 448.4h0M266.9 421.1h0M266.7 457.8h0M274.4 419.7h0M278.5 411.5h0M271.3 413.9h0M273.6 423.5h0M282.6 444.5h0M279.4 436.5h0M283.0 424.9h0M264.8 421.5h0M280.6 404.1h0M261.4 436.3h0M277.0 386.9h0M277.6 446.4h0M272.4 425.0h0M275.5 388.5h0M280.7 435.0h0M262.5 455.9h0M272.2 419.5h0M264.6 402.2h0M253.1 457.9h0M258.8 445.9h0M274.4 448.5h0M259.5 444.5h0M260.3 448.4h0M265.7 405.5h0M276.2 436.6h0M266.4 455.5h0M260.7 433.0h0M275.9 388.9h0M273.4 415.3h0M275.7 426.7h0M269.7 411.9h0M271.2 421.4h0M275.2 434.7h0M282.8 436.8h0M269.7 444.6h0M280.7 455.7h0M272.9 415.7h0M263.6 444.4h0M265.7 398.1h0M277.8 442.5h0M276.0 454.2h0M279.0 421.2h0M277.4 394.1h0M260.8 457.9h0M284.7 405.8h0M270.9 409.5h0M272.1 447.9h0M270.6 432.7h0M277.7 406.3h0M261.2 456.2h0M277.6 436.3h0M270.0 453.8h0M283.0 408.0h0M266.7 428.7h0M264.8 451.8h0M261.3 457.7h0M278.3 425.1h0M286.3 358.2h0M280.7 442.7h0M259.3 446.3h0M281.2 386.4h0M255.9 456.0h0M274.1 458.1h0M268.7 451.7h0M283.5 455.9h0M282.6 422.9h0M277.4 451.7h0M268.0 424.9h0M260.7 427.4h0M272.7 433.2h0M278.4 446.1h0M271.5 448.3h0M277.3 426.8h0M274.8 442.1h0M260.1 455.6h0M261.1 446.2h0M268.5 436.4h0M284.5 419.6h0M271.9 448.5h0M272.7 394.7h0M269.6 409.9h0M283.0 422.8h0M279.5 453.8h0M281.7 403.6h0M263.0 446.0h0M275.6 457.5h0M262.5 432.6h0M262.8 444.7h0M278.0 425.1h0M279.2 451.8h0M276.4 440.3h0M284.3 415.6h0M261.1 425.3h0M272.4 458.0h0M280.5 423.3h0M257.3 456.0h0M262.1 455.9h0M258.7 448.0h0M271.8 449.8h0M278.0 453.6h0M277.2 417.5h0M282.0 430.9h0M282.9 375.3h0M261.8 457.7h0M278.3 438.2h0M269.0 444.2h0M276.9 444.2h0M281.6 451.9h0M271.3 419.6h0M261.4 428.8h0M271.9 434.3h0M269.4 392.2h0M255.0 453.6h0M263.3 453.6h0M268.1 433.0h0M282.7 419.5h0M272.5 434.7h0M266.4 421.5h0M259.9 454.2h0M281.6 442.4h0M279.1 411.4h0M260.2 438.2h0M267.9 392.5h0M276.3 404.3h0M276.6 442.4h0M271.9 455.7h0M260.7 450.1h0M281.8 426.9h0M264.7 457.7h0M257.6 446.0h0M266.3 454.3h0M282.0 419.0h0M255.4 454.3h0M263.6 444.2h0M265.8 409.8h0M274.1 442.2h0M270.0 451.9h0M277.2 447.8h0M264.5 433.0h0M261.3 436.8h0M279.0 405.8h0M269.5 440.4h0M276.4 417.1h0M282.8 400.5h0M280.5 430.6h0M260.9 449.8h0M274.2 446.2h0M281.8 424.9h0M271.0 390.8h0M276.8 442.5h0M266.3 411.9h0M263.4 440.8h0M270.9 436.4h0M273.3 454.0h0M264.3 403.9h0M262.6 436.4h0M264.1 436.3h0M279.1 363.8h0M270.1 442.6h0M283.7 453.5h0M276.7 421.1h0M266.3 417.5h0M265.5 448.3h0M283.9 396.0h0M265.0 430.6h0M261.8 430.6h0M283.8 424.9h0M283.4 431.0h0M283.8 408.0h0M282.0 423.4h0M268.6 428.9h0M282.8 433.1h0M272.7 417.3h0M273.0 432.6h0M282.8 376.9h0M270.3 440.6h0M280.5 396.0h0M284.0 419.4h0M284.2 421.1h0M272.9 434.5h0M271.8 421.0h0M282.2 428.9h0M267.6 442.7h0M274.2 392.2h0M281.8 434.8h0M266.3 419.2h0M268.9 446.1h0M273.3 419.1h0M266.9 409.8h0M268.2 413.7h0M278.0 442.0h0M263.4 426.7h0M278.9 442.3h0M269.6 432.8h0M265.3 421.6h0M280.9 448.1h0M263.3 451.8h0M276.2 387.0h0M258.6 450.3h0M271.4 411.9h0M279.9 444.1h0M272.3 409.6h0M281.0 420.9h0M260.9 448.1h0M280.9 444.0h0M279.8 427.2h0M266.1 421.3h0M264.9 403.8h0M272.5 451.7h0M272.6 450.3h0M269.9 444.4h0M274.8 396.6h0M276.3 438.7h0M274.2 401.7h0M274.7 423.5h0M281.6 430.8h0M282.6 433.1h0M276.1 404.1h0M259.1 451.9h0M281.2 396.7h0M277.7 449.9h0M272.8 449.9h0M266.9 427.4h0M273.5 440.1h0M282.3 430.8h0M283.1 428.6h0M277.2 421.4h0M262.6 455.5h0M282.1 457.5h0M259.5 453.8h0M283.1 359.9h0M273.9 394.3h0M260.8 425.0h0M266.9 430.7h0M269.1 420.9h0M279.8 444.3h0M264.0 415.6h0M269.6 450.3h0M271.9 403.7h0M265.6 457.4h0M268.6 448.0h0M260.7 442.6h0M276.6 402.3h0M261.0 429.3h0M269.8 438.3h0M277.2 452.1h0M275.6 444.1h0M270.3 450.4h0M275.8 446.3h0M283.8 450.3h0M271.7 444.4h0M259.1 447.9h0M268.4 431.0h0M273.0 382.8h0M274.8 448.4h0M268.3 436.8h0M275.7 408.1h0M271.1 440.8h0M283.0 455.5h0M262.7 423.3h0M264.1 419.2h0M270.8 451.9h0M268.4 426.7h0M277.6 429.2h0M270.3 455.6h0M270.4 436.5h0M271.4 428.8h0M274.9 407.5h0M259.5 438.8h0M280.6 434.4h0M264.8 442.7h0M278.7 383.1h0M277.8 392.3h0M268.4 425.0h0M276.9 446.0h0M267.2 417.2h0M271.8 436.9h0M275.9 431.1h0M284.1 455.5h0M260.5 457.6h0M271.3 452.3h0M276.5 444.1h0M282.8 417.6h0M274.0 427.1h0M256.9 452.1h0M271.7 403.8h0M280.0 413.3h0M280.9 446.2h0M282.3 446.3h0M273.2 451.7h0M265.4 451.6h0M261.5 454.0h0M269.9 449.7h0M264.7 407.6h0M270.6 444.6h0M276.8 433.1h0M268.8 425.3h0M256.8 448.5h0M278.3 371.0h0M281.4 455.8h0M272.2 440.4h0M282.0 453.7h0M281.1 411.9h0M255.4 457.9h0M270.7 429.0h0M282.4 430.5h0M263.5 422.9h0M281.7 454.2h0M269.7 442.6h0M260.9 436.8h0M279.1 417.7h0M271.5 453.9h0M274.4 442.2h0M269.1 447.8h0M277.3 415.9h0M283.0 432.5h0M279.7 444.3h0M271.1 450.1h0M281.2 365.8h0M278.6 444.3h0M261.4 451.9h0M277.9 371.1h0M263.0 451.9h0M256.4 453.8h0M270.2 413.4h0M277.7 428.7h0M255.6 451.6h0M272.2 429.2h0M267.3 409.5h0M268.2 440.4h0M280.0 415.4h0M260.5 438.5h0M261.6 425.4h0M274.9 413.5h0M282.7 450.3h0M283.8 456.0h0M278.3 455.6h0M260.5 457.8h0M263.2 450.1h0M255.3 455.7h0M280.9 390.7h0M274.2 452.3h0M263.6 431.0h0M266.3 446.2h0M261.0 442.5h0M278.1 369.2h0M269.2 388.7h0M263.5 411.4h0M281.0 388.6h0M279.7 431.2h0M259.8 434.8h0M280.5 445.9h0M269.6 445.9h0M270.1 430.8h0M269.1 409.7h0M270.1 427.0h0M274.8 454.0h0M282.2 408.1h0M279.5 428.8h0M270.3 443.9h0M275.8 446.2h0M278.5 386.5h0M263.3 428.9h0M282.8 457.7h0M281.5 423.1h0M270.2 455.5h0M270.7 445.9h0M269.5 440.2h0M265.8 454.2h0M273.5 400.4h0M269.2 435.0h0M276.2 372.9h0M263.3 434.8h0M270.1 388.5h0M273.3 374.9h0M285.3 398.4h0M280.0 382.7h0M284.0 384.6h0M257.3 457.5h0M264.2 406.0h0M271.6 457.6h0M261.0 453.6h0M266.1 419.4h0M279.4 369.3h0M263.3 453.9h0M261.5 426.8h0M274.2 444.5h0M277.1 455.8h0M272.8 407.6h0M269.1 457.5h0M274.8 453.7h0M259.1 440.1h0M268.3 453.7h0M273.2 454.0h0M270.5 442.7h0M259.2 450.4h0M275.3 421.5h0M282.0 392.3h0M264.0 457.7h0M283.9 400.5h0M267.3 413.5h0M271.8 417.8h0M263.3 413.3h0M263.8 442.3h0M273.3 438.6h0M278.9 447.8h0M272.6 456.0h0M272.1 415.4h0M265.6 440.2h0M262.0 417.2h0M275.2 409.4h0M256.2 451.8h0M270.5 448.1h0M267.0 447.9h0M256.6 457.4h0M267.7 405.6h0M266.6 452.1h0M282.0 380.8h0M277.8 409.9h0M284.3 385.1h0M278.2 413.4h0M275.5 411.7h0M275.2 378.6h0M277.7 419.7h0M271.0 406.1h0M264.4 422.9h0M277.5 455.4h0M260.9 457.6h0M274.7 453.9h0M276.6 449.9h0M283.2 365.4h0M262.6 444.1h0M264.7 454.2h0M280.7 427.1h0M283.4 452.0h0M276.2 419.5h0M279.3 446.0h0M266.8 455.9h0M281.5 438.2h0M261.7 448.2h0M269.1 455.5h0M282.4 448.4h0M275.1 382.7h0M273.4 410.0h0M261.1 440.4h0M258.7 456.0h0M273.6 449.7h0M281.7 450.4h0M277.7 448.3h0M282.0 413.9h0M275.0 428.6h0M280.8 396.0h0M267.4 457.4h0M271.5 398.0h0M275.0 457.4h0M279.5 415.8h0M257.6 444.6h0M283.2 429.1h0M272.1 434.9h0M269.4 427.2h0M265.6 423.2h0M265.1 419.6h0M261.6 438.7h0M262.4 428.6h0M278.8 409.9h0M258.9 440.3h0M283.0 450.3h0M273.2 444.2h0M278.7 394.1h0M268.6 407.5h0M280.8 419.6h0M263.1 428.7h0M264.8 455.8h0M267.3 404.1h0M269.3 419.2h0M272.2 424.8h0M277.8 426.7h0M279.1 453.8h0M282.5 457.4h0M279.5 415.3h0M283.2 388.4h0M278.6 436.7h0M267.3 419.4h0M279.4 449.9h0M282.1 359.8h0M273.3 399.9h0M273.3 390.5h0M279.8 457.9h0M277.6 435.0h0M271.0 451.7h0M283.7 396.5h0M284.7 401.7h0M280.3 376.8h0M261.3 444.4h0M258.2 446.0h0M269.8 455.9h0M272.9 415.8h0M274.3 442.3h0M269.8 392.2h0M279.8 436.4h0M285.4 407.7h0M281.0 373.0h0M262.8 438.8h0M277.5 400.4h0M276.3 421.4h0M277.7 446.1h0M266.9 444.6h0M269.2 453.6h0M282.8 394.1h0M264.2 417.1h0M277.9 398.5h0M276.8 407.8h0M273.1 417.7h0M267.5 415.5h0M272.4 453.8h0M272.0 438.9h0M277.9 425.3h0M275.4 409.6h0M273.6 396.1h0M257.2 445.9h0M275.3 446.1h0M270.7 398.1h0M268.9 396.2h0M271.4 409.8h0M263.8 444.4h0M280.3 430.9h0M254.0 455.7h0M266.2 413.8h0M283.6 367.5h0M271.2 408.2h0M261.0 426.8h0M284.4 428.7h0M268.4 457.5h0M281.7 440.3h0M262.9 431.1h0M280.3 452.2h0M263.8 413.7h0M278.7 408.1h0M276.4 455.7h0M277.3 450.3h0M269.2 438.9h0M278.7 452.3h0M270.6 448.5h0M265.4 415.7h0M266.7 398.5h0M272.7 406.0h0M274.1 438.7h0M263.1 419.0h0M278.2 411.4h0M274.7 450.0h0M267.0 455.7h0M280.6 411.6h0M280.8 402.2h0M275.9 371.1h0M268.8 453.8h0M256.0 448.1h0M277.8 419.1h0M267.9 428.9h0M276.7 406.1h0M281.4 392.3h0M266.2 411.4h0M279.5 448.4h0M272.6 438.8h0M274.4 417.8h0M283.9 413.6h0M282.2 436.4h0M275.0 442.7h0M276.5 423.3h0M261.2 444.4h0M264.4 438.5h0M271.0 440.3h0M266.6 454.2h0M275.0 397.9h0M283.7 407.9h0M274.4 409.9h0M270.1 409.8h0M284.3 409.4h0M265.2 453.7h0M262.6 421.3h0M274.6 398.1h0M283.0 446.2h0M265.4 428.8h0M278.4 435.0h0M274.5 445.9h0M273.7 452.2h0M283.8 371.6h0M257.3 448.1h0M271.4 448.0h0M272.7 423.6h0M262.8 454.2h0M261.7 445.8h0M274.3 457.6h0M277.6 457.4h0M262.8 442.0h0M268.1 436.3h0M275.4 423.3h0M265.5 405.9h0M283.4 421.3h0M267.6 438.2h0M283.6 433.0h0M268.6 442.3h0M272.3 413.7h0M262.9 425.1h0M280.3 375.3h0M279.2 446.3h0M279.8 446.3h0M283.7 450.3h0M265.6 456.1h0M270.5 419.1h0M259.2 455.8h0M269.0 424.8h0M261.8 436.2h0M281.2 436.5h0M281.7 356.3h0M282.9 405.7h0M281.4 429.1h0M259.7 438.3h0M282.9 446.6h0M261.7 432.5h0M284.7 413.5h0M262.9 438.7h0M270.5 396.3h0M272.0 426.9h0M274.2 403.6h0M268.7 450.0h0M260.8 430.9h0M263.3 455.6h0M278.9 440.5h0M283.8 458.0h0M276.8 436.3h0M276.4 444.4h0M261.7 442.4h0M277.4 434.6h0M260.4 444.3h0M272.8 455.8h0M266.2 448.2h0M272.7 448.5h0M272.7 430.9h0M264.3 436.9h0M277.6 451.8h0M262.7 428.9h0M274.7 430.8h0M282.0 454.0h0M265.5 430.7h0M271.7 456.0h0M282.7 415.2h0M270.4 438.8h0M281.6 434.8h0M265.6 423.4h0M255.5 452.0h0M265.2 431.2h0M284.2 402.0h0M284.7 429.2h0M277.8 407.8h0M272.7 404.0h0M316.1 410.7h0M307.9 389.1h0M303.3 420.3h0M289.2 362.7h0M283.4 362.7h0M261.2 357.9h0M269.4 372.3h0M299.8 444.3h0M310.3 449.1h0" stroke="#86c9e9" stroke-width="2.9" stroke-linecap="round" fill="none"/>
<line x1="252.6" y1="347.4" x2="252.6" y2="464.8" stroke="#6ab8e0" stroke-width="0.9" stroke-dasharray="1.2,1.8"/>
<line x1="256" y1="347.4" x2="256" y2="464.8" stroke="#6ab8e0" stroke-width="0.9" stroke-dasharray="1.2,1.8"/>
<line x1="195.6" y1="458.7" x2="321.4" y2="458.7" stroke="#000" stroke-width="1.1" stroke-dasharray="1.3,2.6"/>
<line x1="245" y1="399" x2="262" y2="421" stroke="#76c4e6" stroke-width="1.1"/>
<line x1="265" y1="388" x2="268" y2="410" stroke="#76c4e6" stroke-width="1.1"/>
<line x1="284" y1="379" x2="278" y2="404" stroke="#76c4e6" stroke-width="1.1"/>
<line x1="306" y1="376" x2="283" y2="418" stroke="#76c4e6" stroke-width="1.1"/>
<line x1="301" y1="401" x2="283" y2="424" stroke="#76c4e6" stroke-width="1.1"/>
<line x1="290" y1="419" x2="278" y2="432" stroke="#76c4e6" stroke-width="1.1"/>
<line x1="292" y1="434" x2="274" y2="441" stroke="#76c4e6" stroke-width="1.1"/>
<line x1="299" y1="446" x2="275" y2="449" stroke="#76c4e6" stroke-width="1.1"/>
<line x1="284" y1="459" x2="264" y2="454" stroke="#76c4e6" stroke-width="1.1"/>
<text x="287.8" y="377" font-size="10.2" text-anchor="middle">Irf4</text>
<text x="310.7" y="373.8" font-size="10.2" text-anchor="middle">Il10</text>
<text x="263" y="387" font-size="10.2" text-anchor="middle">Foxo1</text>
<text x="242.4" y="398.6" font-size="10.2" text-anchor="middle">Ada</text>
<text x="308.2" y="400.1" font-size="10.2" text-anchor="middle">Ctla4</text>
<text x="265" y="418.5" font-size="10.2" text-anchor="middle">Lag3</text>
<text x="303.2" y="420" font-size="10.2" text-anchor="middle">Havcr2</text>
<text x="274.2" y="432.4" font-size="10.2" text-anchor="middle">Ikzf4</text>
<text x="304.7" y="436.1" font-size="10.2" text-anchor="middle">Helios</text>
<text x="256.8" y="442.1" font-size="10.2" text-anchor="middle">Tgfb1</text>
<text x="310.2" y="449.5" font-size="10.2" text-anchor="middle">Tigit</text>
<text x="259.3" y="455.2" font-size="10.2" text-anchor="middle">A2a</text>
<text x="296.5" y="462.6" font-size="10.2" text-anchor="middle">Pdcd1</text>
<rect x="195.6" y="347.4" width="125.8" height="117.4" fill="none" stroke="#000" stroke-width="1.7"/>
<line x1="193" y1="449.1" x2="195.6" y2="449.1" stroke="#000" stroke-width="1"/>
<text x="192.3" y="452.8" font-size="10.3" text-anchor="end">1.5</text>
<line x1="193" y1="425.1" x2="195.6" y2="425.1" stroke="#000" stroke-width="1"/>
<text x="192.3" y="428.8" font-size="10.3" text-anchor="end">2.0</text>
<line x1="193" y1="401.1" x2="195.6" y2="401.1" stroke="#000" stroke-width="1"/>
<text x="192.3" y="404.8" font-size="10.3" text-anchor="end">2.5</text>
<line x1="193" y1="377.1" x2="195.6" y2="377.1" stroke="#000" stroke-width="1"/>
<text x="192.3" y="380.8" font-size="10.3" text-anchor="end">3.0</text>
<line x1="193" y1="353.1" x2="195.6" y2="353.1" stroke="#000" stroke-width="1"/>
<text x="192.3" y="356.8" font-size="10.3" text-anchor="end">3.5</text>
<line x1="195.8" y1="464.8" x2="195.8" y2="467.4" stroke="#000" stroke-width="1"/>
<text x="195.8" y="475.4" font-size="10.2" text-anchor="middle">-5.0</text>
<line x1="225" y1="464.8" x2="225" y2="467.4" stroke="#000" stroke-width="1"/>
<text x="225" y="475.4" font-size="10.2" text-anchor="middle">-2.5</text>
<line x1="254.2" y1="464.8" x2="254.2" y2="467.4" stroke="#000" stroke-width="1"/>
<text x="254.2" y="475.4" font-size="10.2" text-anchor="middle">0.0</text>
<line x1="283.4" y1="464.8" x2="283.4" y2="467.4" stroke="#000" stroke-width="1"/>
<text x="283.4" y="475.4" font-size="10.2" text-anchor="middle">2.5</text>
<line x1="312.6" y1="464.8" x2="312.6" y2="467.4" stroke="#000" stroke-width="1"/>
<text x="312.6" y="475.4" font-size="10.2" text-anchor="middle">5.0</text>
<text x="254.5" y="486.8" font-size="11.4" text-anchor="middle">log2FC</text>
<text x="253.8" y="343.8" font-size="12.5" text-anchor="middle">H3K18la</text>
<text x="15.7" y="408.8" font-size="11.4" text-anchor="middle" transform="rotate(-90 15.7 408.8)">-log10(FDR)</text>
<rect x="92.6" y="498.6" width="7" height="4.8" fill="#6a6a6a" stroke="#000" stroke-width="0.9"/>
<text x="105.7" y="504.9" font-size="12.8">Tregs</text>
<rect x="153.8" y="498.6" width="6.5" height="4.8" fill="#4a9af0" stroke="#000" stroke-width="0.9"/>
<text x="166.1" y="504.9" font-size="12.9">Tregs + Na-La</text>
<line x1="387.5" y1="365.8" x2="387.5" y2="459.9" stroke="#000" stroke-width="1.1"/>
<line x1="387" y1="459.4" x2="454.9" y2="459.4" stroke="#000" stroke-width="1.1"/>
<line x1="384.5" y1="445.8" x2="387.5" y2="445.8" stroke="#000" stroke-width="1.1"/>
<text x="382.2" y="449.5" font-size="10.3" text-anchor="end">1.0</text>
<line x1="384.5" y1="419.15" x2="387.5" y2="419.15" stroke="#000" stroke-width="1.1"/>
<text x="382.2" y="422.85" font-size="10.3" text-anchor="end">1.5</text>
<line x1="384.5" y1="392.5" x2="387.5" y2="392.5" stroke="#000" stroke-width="1.1"/>
<text x="382.2" y="396.2" font-size="10.3" text-anchor="end">2.0</text>
<line x1="384.5" y1="365.85" x2="387.5" y2="365.85" stroke="#000" stroke-width="1.1"/>
<text x="382.2" y="369.55" font-size="10.3" text-anchor="end">2.5</text>
<line x1="406.5" y1="459.4" x2="406.5" y2="463" stroke="#000" stroke-width="1.1"/>
<line x1="435" y1="459.4" x2="435" y2="463" stroke="#000" stroke-width="1.1"/>
<line x1="435.1" y1="370.8" x2="435.1" y2="377.4" stroke="#000" stroke-width="1"/>
<line x1="430.45" y1="370.8" x2="439.75" y2="370.8" stroke="#000" stroke-width="1"/>
<rect x="425.8" y="377.4" width="18.6" height="41.2" fill="#4d9cf2" stroke="#000" stroke-width="1"/>
<line x1="425.8" y1="407.4" x2="444.4" y2="407.4" stroke="#000" stroke-width="1"/>
<circle cx="435" cy="370.8" r="1.75" fill="#000"/>
<circle cx="435" cy="395.8" r="1.75" fill="#000"/>
<circle cx="432" cy="418.6" r="1.75" fill="#000"/>
<circle cx="438" cy="418.6" r="1.75" fill="#000"/>
<circle cx="398" cy="445.8" r="1.75" fill="#000"/>
<circle cx="403.5" cy="445.8" r="1.75" fill="#000"/>
<circle cx="409" cy="445.8" r="1.75" fill="#000"/>
<circle cx="414.5" cy="445.8" r="1.75" fill="#000"/>
<path d="M406.5 365.1V359.4H435.3V365.1" fill="none" stroke="#000" stroke-width="1"/>
<text x="393.6" y="355" font-size="10.5">P = 0.0082</text>
<text x="360.8" y="411.2" font-size="11.5" text-anchor="middle" transform="rotate(-90 360.8 411.2)"><tspan font-style="italic">Foxp3</tspan><tspan> (mRNA)</tspan></text>
<text x="406.5" y="477.2" font-size="11.5" text-anchor="middle">-</text>
<text x="435" y="479" font-size="11.5" text-anchor="middle">+</text>
<text x="358.1" y="470" font-size="9.9">Na-La</text>
<text x="355.6" y="481.8" font-size="9.9">25mM</text>
<line x1="495" y1="359.8" x2="495" y2="457.7" stroke="#000" stroke-width="1.1"/>
<line x1="494.5" y1="457.2" x2="561" y2="457.2" stroke="#000" stroke-width="1.1"/>
<line x1="492" y1="443.5" x2="495" y2="443.5" stroke="#000" stroke-width="1.1"/>
<text x="490.2" y="447.2" font-size="10.3" text-anchor="end">1.0</text>
<line x1="492" y1="415.7" x2="495" y2="415.7" stroke="#000" stroke-width="1.1"/>
<text x="490.2" y="419.4" font-size="10.3" text-anchor="end">1.5</text>
<line x1="492" y1="387.9" x2="495" y2="387.9" stroke="#000" stroke-width="1.1"/>
<text x="490.2" y="391.6" font-size="10.3" text-anchor="end">2.0</text>
<line x1="492" y1="360.1" x2="495" y2="360.1" stroke="#000" stroke-width="1.1"/>
<text x="490.2" y="363.8" font-size="10.3" text-anchor="end">2.5</text>
<line x1="513.6" y1="457.2" x2="513.6" y2="460.8" stroke="#000" stroke-width="1.1"/>
<line x1="542.4" y1="457.2" x2="542.4" y2="460.8" stroke="#000" stroke-width="1.1"/>
<line x1="542.15" y1="381.2" x2="542.15" y2="386.4" stroke="#000" stroke-width="1"/>
<line x1="537.63" y1="381.2" x2="546.68" y2="381.2" stroke="#000" stroke-width="1"/>
<line x1="542.15" y1="413.1" x2="542.15" y2="416" stroke="#000" stroke-width="1"/>
<line x1="537.63" y1="416" x2="546.68" y2="416" stroke="#000" stroke-width="1"/>
<rect x="533.1" y="386.4" width="18.1" height="26.7" fill="#4d9cf2" stroke="#000" stroke-width="1"/>
<line x1="533.1" y1="403.1" x2="551.2" y2="403.1" stroke="#000" stroke-width="1"/>
<circle cx="542.4" cy="381.2" r="1.75" fill="#000"/>
<circle cx="542.4" cy="400.6" r="1.75" fill="#000"/>
<circle cx="542.4" cy="406.7" r="1.75" fill="#000"/>
<circle cx="542.4" cy="416" r="1.75" fill="#000"/>
<circle cx="505.8" cy="443.5" r="1.75" fill="#000"/>
<circle cx="509.8" cy="443.5" r="1.75" fill="#000"/>
<circle cx="513.8" cy="443.5" r="1.75" fill="#000"/>
<circle cx="517.8" cy="443.5" r="1.75" fill="#000"/>
<circle cx="521.6" cy="443.5" r="1.75" fill="#000"/>
<path d="M513.6 375.5V369.5H542.6V375.5" fill="none" stroke="#000" stroke-width="1"/>
<text x="501.6" y="364.7" font-size="10.5">P = 0.0011</text>
<text x="469.4" y="406.9" font-size="11.5" text-anchor="middle" transform="rotate(-90 469.4 406.9)"><tspan font-style="italic">Pdcd1</tspan><tspan> (mRNA)</tspan></text>
<text x="513.6" y="477.4" font-size="11.5" text-anchor="middle">-</text>
<text x="542.4" y="479.2" font-size="11.5" text-anchor="middle">+</text>
<line x1="607.4" y1="358.1" x2="607.4" y2="455.5" stroke="#000" stroke-width="1.1"/>
<line x1="606.9" y1="455" x2="674" y2="455" stroke="#000" stroke-width="1.1"/>
<line x1="604.4" y1="440.8" x2="607.4" y2="440.8" stroke="#000" stroke-width="1.1"/>
<text x="602.6" y="444.5" font-size="10.3" text-anchor="end">1.0</text>
<line x1="604.4" y1="413.3" x2="607.4" y2="413.3" stroke="#000" stroke-width="1.1"/>
<text x="602.6" y="417" font-size="10.3" text-anchor="end">1.5</text>
<line x1="604.4" y1="385.8" x2="607.4" y2="385.8" stroke="#000" stroke-width="1.1"/>
<text x="602.6" y="389.5" font-size="10.3" text-anchor="end">2.0</text>
<line x1="604.4" y1="358.3" x2="607.4" y2="358.3" stroke="#000" stroke-width="1.1"/>
<text x="602.6" y="362" font-size="10.3" text-anchor="end">2.5</text>
<line x1="626" y1="455" x2="626" y2="458.6" stroke="#000" stroke-width="1.1"/>
<line x1="654.3" y1="455" x2="654.3" y2="458.6" stroke="#000" stroke-width="1.1"/>
<line x1="654.65" y1="378.9" x2="654.65" y2="387.5" stroke="#000" stroke-width="1"/>
<line x1="650.22" y1="378.9" x2="659.08" y2="378.9" stroke="#000" stroke-width="1"/>
<rect x="645.8" y="387.5" width="17.7" height="38.9" fill="#4d9cf2" stroke="#000" stroke-width="1"/>
<line x1="645.8" y1="418.5" x2="663.5" y2="418.5" stroke="#000" stroke-width="1"/>
<circle cx="654.3" cy="378.9" r="1.75" fill="#000"/>
<circle cx="654.3" cy="412.4" r="1.75" fill="#000"/>
<circle cx="651" cy="425.6" r="1.75" fill="#000"/>
<circle cx="657" cy="424" r="1.75" fill="#000"/>
<circle cx="618.3" cy="440.8" r="1.75" fill="#000"/>
<circle cx="623.5" cy="440.8" r="1.75" fill="#000"/>
<circle cx="628.7" cy="440.8" r="1.75" fill="#000"/>
<circle cx="633.7" cy="440.8" r="1.75" fill="#000"/>
<path d="M626 372.9V367.4H654.5V372.9" fill="none" stroke="#000" stroke-width="1"/>
<text x="613.8" y="362.8" font-size="10.5">P = 0.0349</text>
<text x="582.4" y="403.9" font-size="11.5" text-anchor="middle" transform="rotate(-90 582.4 403.9)"><tspan font-style="italic">Tgfβ1</tspan><tspan> (mRNA)</tspan></text>
<text x="626" y="475.4" font-size="11.5" text-anchor="middle">-</text>
<text x="654.3" y="477.2" font-size="11.5" text-anchor="middle">+</text>
<line x1="79.4" y1="533.3" x2="79.4" y2="635.8" stroke="#000" stroke-width="1.1"/>
<line x1="78.9" y1="635.3" x2="151.8" y2="635.3" stroke="#000" stroke-width="1.1"/>
<line x1="76.2" y1="635.3" x2="79.4" y2="635.3" stroke="#000" stroke-width="1.1"/>
<text x="73.4" y="639.2" font-size="10.9" text-anchor="end">200</text>
<line x1="76.2" y1="614.94" x2="79.4" y2="614.94" stroke="#000" stroke-width="1.1"/>
<text x="73.4" y="618.84" font-size="10.9" text-anchor="end">250</text>
<line x1="76.2" y1="594.58" x2="79.4" y2="594.58" stroke="#000" stroke-width="1.1"/>
<text x="73.4" y="598.48" font-size="10.9" text-anchor="end">300</text>
<line x1="76.2" y1="574.22" x2="79.4" y2="574.22" stroke="#000" stroke-width="1.1"/>
<text x="73.4" y="578.12" font-size="10.9" text-anchor="end">350</text>
<line x1="76.2" y1="553.86" x2="79.4" y2="553.86" stroke="#000" stroke-width="1.1"/>
<text x="73.4" y="557.76" font-size="10.9" text-anchor="end">400</text>
<line x1="76.2" y1="533.5" x2="79.4" y2="533.5" stroke="#000" stroke-width="1.1"/>
<text x="73.4" y="537.4" font-size="10.9" text-anchor="end">450</text>
<line x1="99.85" y1="550.5" x2="99.85" y2="562.2" stroke="#000" stroke-width="1"/>
<line x1="94.88" y1="550.5" x2="104.82" y2="550.5" stroke="#000" stroke-width="1"/>
<line x1="99.85" y1="578.6" x2="99.85" y2="580.9" stroke="#000" stroke-width="1"/>
<line x1="94.88" y1="580.9" x2="104.82" y2="580.9" stroke="#000" stroke-width="1"/>
<rect x="89.9" y="562.2" width="19.9" height="16.4" fill="#777777" stroke="#000" stroke-width="1"/>
<line x1="89.9" y1="574.4" x2="109.8" y2="574.4" stroke="#000" stroke-width="1"/>
<circle cx="100" cy="550.5" r="1.75" fill="#000"/>
<circle cx="100" cy="558.5" r="1.75" fill="#000"/>
<circle cx="97.5" cy="562.5" r="1.75" fill="#000"/>
<circle cx="102.5" cy="567" r="1.75" fill="#000"/>
<circle cx="97" cy="570.5" r="1.75" fill="#000"/>
<circle cx="104" cy="572" r="1.75" fill="#000"/>
<circle cx="95" cy="575.5" r="1.75" fill="#000"/>
<circle cx="106" cy="576.5" r="1.75" fill="#000"/>
<circle cx="98" cy="578.2" r="1.75" fill="#000"/>
<circle cx="93.5" cy="580.5" r="1.75" fill="#000"/>
<circle cx="108" cy="578.5" r="1.75" fill="#000"/>
<line x1="131.15" y1="565.3" x2="131.15" y2="569.2" stroke="#000" stroke-width="1"/>
<line x1="126.08" y1="565.3" x2="136.23" y2="565.3" stroke="#000" stroke-width="1"/>
<line x1="131.15" y1="605" x2="131.15" y2="618.3" stroke="#000" stroke-width="1"/>
<line x1="126.08" y1="618.3" x2="136.23" y2="618.3" stroke="#000" stroke-width="1"/>
<rect x="121" y="569.2" width="20.3" height="35.8" fill="#4d9cf2" stroke="#000" stroke-width="1"/>
<line x1="121" y1="597.3" x2="141.3" y2="597.3" stroke="#000" stroke-width="1"/>
<circle cx="128.5" cy="565.5" r="1.75" fill="#000"/>
<circle cx="133" cy="567" r="1.75" fill="#000"/>
<circle cx="131.3" cy="571.5" r="1.75" fill="#000"/>
<circle cx="133" cy="590" r="1.75" fill="#000"/>
<circle cx="127" cy="596" r="1.75" fill="#000"/>
<circle cx="134" cy="598" r="1.75" fill="#000"/>
<circle cx="130" cy="601" r="1.75" fill="#000"/>
<circle cx="136" cy="603" r="1.75" fill="#000"/>
<circle cx="131.3" cy="611" r="1.75" fill="#000"/>
<circle cx="131.3" cy="618" r="1.75" fill="#000"/>
<path d="M100 544.7V538.9H131.3V544.7" fill="none" stroke="#000" stroke-width="1"/>
<text x="89.9" y="533.5" font-size="10.1">P = 0.0047</text>
<text x="37" y="583.2" font-size="11.4" text-anchor="middle" transform="rotate(-90 37 583.2)">MFI of H3K9la</text>
<text x="49.4" y="583.6" font-size="11.3" text-anchor="middle" transform="rotate(-90 49.4 583.6)">in intratumoral Tregs</text>
<rect x="84" y="649.6" width="6.4" height="4.9" fill="#777777" stroke="#000" stroke-width="0.9"/>
<text x="95.3" y="656.8" font-size="13">sgScramble</text>
<line x1="245.7" y1="530" x2="245.7" y2="633.5" stroke="#000" stroke-width="1.1"/>
<line x1="245.2" y1="633" x2="318.8" y2="633" stroke="#000" stroke-width="1.1"/>
<line x1="242.5" y1="623.4" x2="245.7" y2="623.4" stroke="#000" stroke-width="1.1"/>
<text x="240.8" y="626.9" font-size="9.6" text-anchor="end">450</text>
<line x1="242.5" y1="592.3" x2="245.7" y2="592.3" stroke="#000" stroke-width="1.1"/>
<text x="240.8" y="595.8" font-size="9.6" text-anchor="end">600</text>
<line x1="242.5" y1="561.2" x2="245.7" y2="561.2" stroke="#000" stroke-width="1.1"/>
<text x="240.8" y="564.7" font-size="9.6" text-anchor="end">750</text>
<line x1="242.5" y1="530.1" x2="245.7" y2="530.1" stroke="#000" stroke-width="1.1"/>
<text x="240.8" y="533.6" font-size="9.6" text-anchor="end">900</text>
<line x1="266.4" y1="541.9" x2="266.4" y2="557.6" stroke="#000" stroke-width="1"/>
<line x1="261.45" y1="541.9" x2="271.35" y2="541.9" stroke="#000" stroke-width="1"/>
<line x1="266.4" y1="585.6" x2="266.4" y2="593.8" stroke="#000" stroke-width="1"/>
<line x1="261.45" y1="593.8" x2="271.35" y2="593.8" stroke="#000" stroke-width="1"/>
<rect x="256.5" y="557.6" width="19.8" height="28" fill="#777777" stroke="#000" stroke-width="1"/>
<line x1="256.5" y1="571.6" x2="276.3" y2="571.6" stroke="#000" stroke-width="1"/>
<circle cx="263.5" cy="541.9" r="1.75" fill="#000"/>
<circle cx="269.5" cy="541.9" r="1.75" fill="#000"/>
<circle cx="263" cy="557.5" r="1.75" fill="#000"/>
<circle cx="270" cy="558" r="1.75" fill="#000"/>
<circle cx="261" cy="566" r="1.75" fill="#000"/>
<circle cx="266.5" cy="567.5" r="1.75" fill="#000"/>
<circle cx="272" cy="566.5" r="1.75" fill="#000"/>
<circle cx="262" cy="579.5" r="1.75" fill="#000"/>
<circle cx="271.5" cy="580" r="1.75" fill="#000"/>
<circle cx="263.5" cy="593.5" r="1.75" fill="#000"/>
<circle cx="268.5" cy="592.5" r="1.75" fill="#000"/>
<line x1="297.45" y1="578.1" x2="297.45" y2="594.9" stroke="#000" stroke-width="1"/>
<line x1="292.38" y1="578.1" x2="302.53" y2="578.1" stroke="#000" stroke-width="1"/>
<line x1="297.45" y1="616" x2="297.45" y2="626.5" stroke="#000" stroke-width="1"/>
<line x1="292.38" y1="626.5" x2="302.53" y2="626.5" stroke="#000" stroke-width="1"/>
<rect x="287.3" y="594.9" width="20.3" height="21.1" fill="#4d9cf2" stroke="#000" stroke-width="1"/>
<line x1="287.3" y1="610.6" x2="307.6" y2="610.6" stroke="#000" stroke-width="1"/>
<circle cx="297.5" cy="578.1" r="1.75" fill="#000"/>
<circle cx="294" cy="594" r="1.75" fill="#000"/>
<circle cx="300.5" cy="593.5" r="1.75" fill="#000"/>
<circle cx="296" cy="597.5" r="1.75" fill="#000"/>
<circle cx="300" cy="604" r="1.75" fill="#000"/>
<circle cx="292.5" cy="608.5" r="1.75" fill="#000"/>
<circle cx="302.5" cy="610.5" r="1.75" fill="#000"/>
<circle cx="296" cy="614.5" r="1.75" fill="#000"/>
<circle cx="301" cy="616.5" r="1.75" fill="#000"/>
<circle cx="297.5" cy="626.3" r="1.75" fill="#000"/>
<path d="M266.3 535.8V530.2H297.8V535.8" fill="none" stroke="#000" stroke-width="1"/>
<text x="256.2" y="524.9" font-size="10.1">P = 0.0001</text>
<text x="204.2" y="582.6" font-size="11.4" text-anchor="middle" transform="rotate(-90 204.2 582.6)">MFI of H3K18la</text>
<text x="218.4" y="580.7" font-size="11.3" text-anchor="middle" transform="rotate(-90 218.4 580.7)">in intratumoral Tregs</text>
<rect x="180" y="651" width="5.7" height="4.8" fill="#4d9cf2" stroke="#000" stroke-width="0.9"/>
<text x="188" y="657.3" font-size="13.2">sgKdm6a C1</text>
<line x1="428.4" y1="520.7" x2="428.4" y2="617.6" stroke="#000" stroke-width="1.1"/>
<line x1="427.9" y1="617.1" x2="497" y2="617.1" stroke="#000" stroke-width="1.1"/>
<line x1="425.2" y1="617.1" x2="428.4" y2="617.1" stroke="#000" stroke-width="1.1"/>
<text x="423.8" y="620.8" font-size="10.3" text-anchor="end">150</text>
<line x1="425.2" y1="569" x2="428.4" y2="569" stroke="#000" stroke-width="1.1"/>
<text x="423.8" y="572.7" font-size="10.3" text-anchor="end">300</text>
<line x1="425.2" y1="520.9" x2="428.4" y2="520.9" stroke="#000" stroke-width="1.1"/>
<text x="423.8" y="524.6" font-size="10.3" text-anchor="end">450</text>
<line x1="442" y1="617.1" x2="442" y2="621.6" stroke="#000" stroke-width="1.1"/>
<line x1="461.8" y1="617.1" x2="461.8" y2="621.6" stroke="#000" stroke-width="1.1"/>
<line x1="482.6" y1="617.1" x2="482.6" y2="621.6" stroke="#000" stroke-width="1.1"/>
<line x1="437" y1="535" x2="448" y2="535" stroke="#333" stroke-width="0.8"/>
<circle cx="438.6" cy="536" r="1.55" fill="#000"/>
<circle cx="442.8" cy="534.4" r="1.55" fill="#000"/>
<circle cx="447" cy="534.2" r="1.55" fill="#000"/>
<line x1="456" y1="563.2" x2="468" y2="563.2" stroke="#4a9ef0" stroke-width="1"/>
<circle cx="459.2" cy="561.2" r="1.55" fill="#000"/>
<circle cx="459.6" cy="565" r="1.55" fill="#000"/>
<circle cx="464.2" cy="563.6" r="1.55" fill="#000"/>
<line x1="476" y1="591.4" x2="489" y2="591.4" stroke="#f08a30" stroke-width="1.1"/>
<line x1="482.6" y1="587.2" x2="482.6" y2="597.8" stroke="#f08a30" stroke-width="0.9"/>
<circle cx="482.6" cy="587.9" r="1.55" fill="#000"/>
<circle cx="482.6" cy="591.6" r="1.55" fill="#000"/>
<circle cx="482.6" cy="597.3" r="1.55" fill="#000"/>
<path d="M442.5 529.5V525.6H461.1V529.5" fill="none" stroke="#000" stroke-width="1"/>
<text x="430.3" y="524.0" font-size="9.8">P=3.98×10<tspan font-size="6.9" dy="-3.9">-5</tspan></text>
<text x="388.9" y="568.1" font-size="10.2" text-anchor="middle" transform="rotate(-90 388.9 568.1)">MFI of H3K9la</text>
<text x="401.6" y="566.9" font-size="10.2" text-anchor="middle" transform="rotate(-90 401.6 566.9)">in Tregs</text>
<text x="345.5" y="628.8" font-size="10.1">sgScramble sup</text>
<text x="338.5" y="646" font-size="10.1">sgKdm6a C1 sup</text>
<text x="442" y="631.2" font-size="10.5" text-anchor="middle">+</text>
<text x="442" y="644.4" font-size="10.5" text-anchor="middle">-</text>
<text x="461.8" y="629.6" font-size="10.5" text-anchor="middle">-</text>
<text x="461.8" y="645.8" font-size="10.5" text-anchor="middle">+</text>
<text x="482.6" y="629.6" font-size="10.5" text-anchor="middle">-</text>
<text x="482.6" y="644.4" font-size="10.5" text-anchor="middle">-</text>
<line x1="559.2" y1="510.5" x2="559.2" y2="616.5" stroke="#000" stroke-width="1.1"/>
<line x1="558.7" y1="616" x2="632.3" y2="616" stroke="#000" stroke-width="1.1"/>
<line x1="556" y1="616" x2="559.2" y2="616" stroke="#000" stroke-width="1.1"/>
<text x="555.4" y="619.8" font-size="10.8" text-anchor="end">0</text>
<line x1="556" y1="589.67" x2="559.2" y2="589.67" stroke="#000" stroke-width="1.1"/>
<text x="555.4" y="593.47" font-size="10.8" text-anchor="end">500</text>
<line x1="556" y1="563.35" x2="559.2" y2="563.35" stroke="#000" stroke-width="1.1"/>
<text x="555.4" y="567.15" font-size="10.8" text-anchor="end">1000</text>
<line x1="556" y1="537.02" x2="559.2" y2="537.02" stroke="#000" stroke-width="1.1"/>
<text x="555.4" y="540.82" font-size="10.8" text-anchor="end">1500</text>
<line x1="556" y1="510.7" x2="559.2" y2="510.7" stroke="#000" stroke-width="1.1"/>
<text x="555.4" y="514.5" font-size="10.8" text-anchor="end">2000</text>
<line x1="574" y1="616" x2="574" y2="620.2" stroke="#000" stroke-width="1.1"/>
<line x1="595.9" y1="616" x2="595.9" y2="620.2" stroke="#000" stroke-width="1.1"/>
<line x1="617.5" y1="616" x2="617.5" y2="620.2" stroke="#000" stroke-width="1.1"/>
<line x1="567" y1="541" x2="582" y2="541" stroke="#777" stroke-width="0.9"/>
<circle cx="568.3" cy="542" r="1.6" fill="#000"/>
<circle cx="574.5" cy="539.1" r="1.6" fill="#000"/>
<circle cx="580.2" cy="541.4" r="1.6" fill="#000"/>
<line x1="588" y1="559.5" x2="603" y2="559.5" stroke="#4a9ef0" stroke-width="1"/>
<circle cx="589.6" cy="560.5" r="1.6" fill="#000"/>
<circle cx="595.9" cy="558.2" r="1.6" fill="#000"/>
<circle cx="601.6" cy="559.6" r="1.6" fill="#000"/>
<line x1="610" y1="582" x2="625" y2="582" stroke="#f08a30" stroke-width="1"/>
<circle cx="611.8" cy="583.2" r="1.6" fill="#000"/>
<circle cx="618.1" cy="580.4" r="1.6" fill="#000"/>
<circle cx="623.2" cy="583.2" r="1.6" fill="#000"/>
<path d="M573.4 532.6V527.7H596.7V532.6" fill="none" stroke="#000" stroke-width="1"/>
<text x="560.6" y="525.2" font-size="10.4">P=2.32×10<tspan font-size="7.2" dy="-4.1">-6</tspan></text>
<text x="510.6" y="561.9" font-size="11.2" text-anchor="middle" transform="rotate(-90 510.6 561.9)">MFI of H3K18la</text>
<text x="525.4" y="561.2" font-size="11.2" text-anchor="middle" transform="rotate(-90 525.4 561.2)">in Tregs</text>
<text x="574" y="634" font-size="10.5" text-anchor="middle">+</text>
<text x="574" y="646.8" font-size="10.5" text-anchor="middle">-</text>
<text x="595.9" y="632.6" font-size="10.5" text-anchor="middle">-</text>
<text x="595.9" y="648.2" font-size="10.5" text-anchor="middle">+</text>
<text x="617.5" y="632.6" font-size="10.5" text-anchor="middle">-</text>
<text x="617.5" y="646.8" font-size="10.5" text-anchor="middle">-</text>
<line x1="57.9" y1="705.7" x2="57.9" y2="806.4" stroke="#000" stroke-width="1.1"/>
<line x1="57.4" y1="805.9" x2="126.1" y2="805.9" stroke="#000" stroke-width="1.1"/>
<line x1="54.9" y1="805.9" x2="57.9" y2="805.9" stroke="#000" stroke-width="1.1"/>
<text x="54.3" y="809.7" font-size="10.8" text-anchor="end">0.2</text>
<line x1="54.9" y1="780.9" x2="57.9" y2="780.9" stroke="#000" stroke-width="1.1"/>
<text x="54.3" y="784.7" font-size="10.8" text-anchor="end">0.4</text>
<line x1="54.9" y1="755.9" x2="57.9" y2="755.9" stroke="#000" stroke-width="1.1"/>
<text x="54.3" y="759.7" font-size="10.8" text-anchor="end">0.6</text>
<line x1="54.9" y1="730.9" x2="57.9" y2="730.9" stroke="#000" stroke-width="1.1"/>
<text x="54.3" y="734.7" font-size="10.8" text-anchor="end">0.8</text>
<line x1="54.9" y1="705.9" x2="57.9" y2="705.9" stroke="#000" stroke-width="1.1"/>
<text x="54.3" y="709.7" font-size="10.8" text-anchor="end">1.0</text>
<line x1="106.05" y1="747.5" x2="106.05" y2="750.7" stroke="#000" stroke-width="1"/>
<line x1="101.48" y1="747.5" x2="110.63" y2="747.5" stroke="#000" stroke-width="1"/>
<line x1="106.05" y1="787.2" x2="106.05" y2="796.3" stroke="#000" stroke-width="1"/>
<line x1="101.48" y1="796.3" x2="110.63" y2="796.3" stroke="#000" stroke-width="1"/>
<rect x="96.9" y="750.7" width="18.3" height="36.5" fill="#4d9cf2" stroke="#000" stroke-width="1"/>
<line x1="96.9" y1="760.1" x2="115.2" y2="760.1" stroke="#000" stroke-width="1"/>
<circle cx="105.8" cy="747.5" r="1.75" fill="#000"/>
<circle cx="105.8" cy="757.5" r="1.75" fill="#000"/>
<circle cx="105.8" cy="762.5" r="1.75" fill="#000"/>
<circle cx="105.8" cy="796.3" r="1.75" fill="#000"/>
<circle cx="69.6" cy="705.9" r="1.75" fill="#000"/>
<circle cx="75.1" cy="705.9" r="1.75" fill="#000"/>
<circle cx="80.6" cy="705.9" r="1.75" fill="#000"/>
<circle cx="86" cy="705.9" r="1.75" fill="#000"/>
<path d="M77.1 699.6V693.7H106.3V699.6" fill="none" stroke="#000" stroke-width="1"/>
<text x="67.7" y="688.8" font-size="9.4">P = 0.0012</text>
<text x="33.9" y="753.7" font-size="12.4" text-anchor="middle" transform="rotate(-90 33.9 753.7)"><tspan font-style="italic">Pdcd1</tspan><tspan> (mRNA)</tspan></text>
<line x1="186.3" y1="703.8" x2="186.3" y2="806.1" stroke="#000" stroke-width="1.1"/>
<line x1="185.8" y1="805.6" x2="254.5" y2="805.6" stroke="#000" stroke-width="1.1"/>
<line x1="183.3" y1="805.6" x2="186.3" y2="805.6" stroke="#000" stroke-width="1.1"/>
<text x="182.6" y="809.4" font-size="10.8" text-anchor="end">0.7</text>
<line x1="183.3" y1="771.7" x2="186.3" y2="771.7" stroke="#000" stroke-width="1.1"/>
<text x="182.6" y="775.5" font-size="10.8" text-anchor="end">0.8</text>
<line x1="183.3" y1="737.8" x2="186.3" y2="737.8" stroke="#000" stroke-width="1.1"/>
<text x="182.6" y="741.6" font-size="10.8" text-anchor="end">0.9</text>
<line x1="183.3" y1="703.9" x2="186.3" y2="703.9" stroke="#000" stroke-width="1.1"/>
<text x="182.6" y="707.7" font-size="10.8" text-anchor="end">1.0</text>
<line x1="234.65" y1="740.4" x2="234.65" y2="743.7" stroke="#000" stroke-width="1"/>
<line x1="229.98" y1="740.4" x2="239.32" y2="740.4" stroke="#000" stroke-width="1"/>
<line x1="234.65" y1="786.5" x2="234.65" y2="788.3" stroke="#000" stroke-width="1"/>
<line x1="229.98" y1="788.3" x2="239.32" y2="788.3" stroke="#000" stroke-width="1"/>
<rect x="225.3" y="743.7" width="18.7" height="42.8" fill="#4d9cf2" stroke="#000" stroke-width="1"/>
<line x1="225.3" y1="766.1" x2="244" y2="766.1" stroke="#000" stroke-width="1"/>
<circle cx="234.6" cy="740.4" r="1.75" fill="#000"/>
<circle cx="234.6" cy="749.6" r="1.75" fill="#000"/>
<circle cx="234.6" cy="782.6" r="1.75" fill="#000"/>
<circle cx="234.6" cy="788.3" r="1.75" fill="#000"/>
<circle cx="197.4" cy="704" r="1.75" fill="#000"/>
<circle cx="203" cy="704" r="1.75" fill="#000"/>
<circle cx="208.6" cy="704" r="1.75" fill="#000"/>
<circle cx="214" cy="704" r="1.75" fill="#000"/>
<path d="M205.4 697.7V691.9H234.6V697.7" fill="none" stroke="#000" stroke-width="1"/>
<text x="196.5" y="686.7" font-size="9.4">P = 0.0020</text>
<text x="160.9" y="752" font-size="12.4" text-anchor="middle" transform="rotate(-90 160.9 752)"><tspan font-style="italic">Tgfβ1</tspan><tspan> (mRNA)</tspan></text>
<line x1="112" y1="862.1" x2="112" y2="971.5" stroke="#000" stroke-width="1.1"/>
<line x1="111.5" y1="971" x2="185.5" y2="971" stroke="#000" stroke-width="1.1"/>
<line x1="109" y1="971" x2="112" y2="971" stroke="#000" stroke-width="1.1"/>
<text x="107.6" y="974.8" font-size="10.8" text-anchor="end">0.5</text>
<line x1="109" y1="949.26" x2="112" y2="949.26" stroke="#000" stroke-width="1.1"/>
<text x="107.6" y="953.06" font-size="10.8" text-anchor="end">0.6</text>
<line x1="109" y1="927.52" x2="112" y2="927.52" stroke="#000" stroke-width="1.1"/>
<text x="107.6" y="931.32" font-size="10.8" text-anchor="end">0.7</text>
<line x1="109" y1="905.78" x2="112" y2="905.78" stroke="#000" stroke-width="1.1"/>
<text x="107.6" y="909.58" font-size="10.8" text-anchor="end">0.8</text>
<line x1="109" y1="884.04" x2="112" y2="884.04" stroke="#000" stroke-width="1.1"/>
<text x="107.6" y="887.84" font-size="10.8" text-anchor="end">0.9</text>
<line x1="109" y1="862.3" x2="112" y2="862.3" stroke="#000" stroke-width="1.1"/>
<text x="107.6" y="866.1" font-size="10.8" text-anchor="end">1.0</text>
<line x1="164.1" y1="891.5" x2="164.1" y2="900.9" stroke="#000" stroke-width="1"/>
<line x1="159.2" y1="891.5" x2="169" y2="891.5" stroke="#000" stroke-width="1"/>
<line x1="164.1" y1="959.3" x2="164.1" y2="961.6" stroke="#000" stroke-width="1"/>
<line x1="159.2" y1="961.6" x2="169" y2="961.6" stroke="#000" stroke-width="1"/>
<rect x="154.3" y="900.9" width="19.6" height="58.4" fill="#4d9cf2" stroke="#000" stroke-width="1"/>
<line x1="154.3" y1="940.3" x2="173.9" y2="940.3" stroke="#000" stroke-width="1"/>
<circle cx="164.2" cy="891.5" r="1.75" fill="#000"/>
<circle cx="164.2" cy="925.4" r="1.75" fill="#000"/>
<circle cx="164.2" cy="954.6" r="1.75" fill="#000"/>
<circle cx="164.2" cy="961" r="1.75" fill="#000"/>
<circle cx="125.4" cy="862.3" r="1.75" fill="#000"/>
<circle cx="131" cy="862.3" r="1.75" fill="#000"/>
<circle cx="136.6" cy="862.3" r="1.75" fill="#000"/>
<circle cx="142" cy="862.3" r="1.75" fill="#000"/>
<path d="M133 855.9V849.2H164.2V855.9" fill="none" stroke="#000" stroke-width="1"/>
<text x="123.6" y="844.2" font-size="9.9">P = 0.0043</text>
<text x="86.8" y="914.2" font-size="13.6" text-anchor="middle" transform="rotate(-90 86.8 914.2)"><tspan font-style="italic">Foxp3</tspan><tspan> (mRNA)</tspan></text>
<rect x="241.6" y="834.6" width="5.3" height="5.6" fill="#777777" stroke="#000" stroke-width="0.9"/>
<text x="241.2" y="843.4" font-size="11.4" transform="rotate(90 241.2 843.4)">Tregs + sgScramble sup</text>
<rect x="225" y="834.6" width="5.6" height="5.6" fill="#4d9cf2" stroke="#000" stroke-width="0.9"/>
<text x="224.2" y="843.4" font-size="11.5" transform="rotate(90 224.2 843.4)">Tregs + sgKdm6a C1 sup</text>
<circle cx="438.6" cy="664.9" r="5.5" fill="#1e3a8a"/>
<path d="M427.8 693.2V677.5Q427.8 672.4 433 672.4H445.4Q450.6 672.4 450.6 677.5V693.2Q450.6 694.6 449.2 694.6H448.4Q447 694.6 447 693.2V680.2H446.2V690H432.4V680.2H431.4V693.2Q431.4 694.6 430 694.6H429.2Q427.8 694.6 427.8 693.2Z" fill="#1e3a8a"/>
<path d="M432.6 689H438.2V716.4Q438.2 718.6 435.4 718.6Q432.6 718.6 432.6 716.4Z" fill="#1e3a8a"/>
<path d="M439.2 689H445.2V716.4Q445.2 718.6 442.2 718.6Q439.2 718.6 439.2 716.4Z" fill="#1e3a8a"/>
<circle cx="439.5" cy="689.1" r="6.4" fill="#fbc9c0"/>
<ellipse cx="480.6" cy="705.4" rx="13.6" ry="7.6" fill="#d7e1f3" stroke="#a3b5da" stroke-width="0.8"/>
<ellipse cx="480.6" cy="703.1999999999999" rx="13.4" ry="7.0" fill="#e4ebf7" stroke="#a3b5da" stroke-width="0.8"/>
<path d="M473.5 705.3Q474 700.8 477.5 700.5Q479 698.8 481.5 700.3Q484 698.5999999999999 486 701.0Q489.5 702.8 488.5 705.5999999999999Q485 707.3 481 705.5999999999999Q477 707.5999999999999 473.5 705.3Z" fill="#3f5ea8"/>
<ellipse cx="480.6" cy="688.7" rx="13.6" ry="7.6" fill="#d7e1f3" stroke="#a3b5da" stroke-width="0.8"/>
<ellipse cx="480.6" cy="686.5" rx="13.4" ry="7.0" fill="#e4ebf7" stroke="#a3b5da" stroke-width="0.8"/>
<path d="M473.5 688.6Q474 684.1 477.5 683.8000000000001Q479 682.1 481.5 683.6Q484 681.9 486 684.3000000000001Q489.5 686.1 488.5 688.9Q485 690.6 481 688.9Q477 690.9 473.5 688.6Z" fill="#3f5ea8"/>
<ellipse cx="480.6" cy="672.3000000000001" rx="13.6" ry="7.6" fill="#d7e1f3" stroke="#a3b5da" stroke-width="0.8"/>
<ellipse cx="480.6" cy="670.1" rx="13.4" ry="7.0" fill="#e4ebf7" stroke="#a3b5da" stroke-width="0.8"/>
<path d="M473.5 672.2Q474 667.7 477.5 667.4000000000001Q479 665.7 481.5 667.2Q484 665.5 486 667.9000000000001Q489.5 669.7 488.5 672.5Q485 674.2 481 672.5Q477 674.5 473.5 672.2Z" fill="#3f5ea8"/>
<path d="M555.7 705.6Q557.5 716.5 548 717H536.7" fill="none" stroke="#a33030" stroke-width="1.3"/>
<path d="M513 712Q511 700 516 694Q522 690 528 691.5Q536 694 537.6 706Q538.4 717.5 530 717.5H514.5Q511.5 717.5 512 715.5Z" fill="#cf8270"/>
<path d="M501.2 700.4Q503 697 507 693Q510 690.5 513.5 691.5Q517 694 516.5 700Q516 706 513 708Q509 708 506 705Q502 703.5 501.2 700.4Z" fill="#cf8270"/>
<circle cx="507.3" cy="707.4" r="1.5" fill="#cf8270"/>
<circle cx="514.2" cy="716.5" r="1.6" fill="#cf8270"/>
<path d="M505.5 692Q506 686.5 508.5 687Q510.5 688.5 509.5 691Z" fill="#a02828"/>
<circle cx="518.1" cy="689.6" r="3.7" fill="#a02828" stroke="#fff" stroke-width="0.6"/>
<circle cx="509" cy="697.1" r="0.9" fill="#fff"/>
<circle cx="521.8" cy="701.8" r="7.3" fill="#f9c8c0"/>
<line x1="442.5" y1="720.5" x2="459.88" y2="747.71" stroke="#222" stroke-width="1.1"/>
<path d="M462.3 751.5L457.8 748.5L461.5 746.1Z" fill="#222"/>
<line x1="481.6" y1="715.5" x2="481.6" y2="747" stroke="#222" stroke-width="1.1"/>
<path d="M481.6 751.5L479.4 746.5L483.8 746.5Z" fill="#222"/>
<line x1="522" y1="722" x2="504.71" y2="747.76" stroke="#222" stroke-width="1.1"/>
<path d="M502.2 751.5L503.2 746.1L506.8 748.6Z" fill="#222"/>
<path d="M476.5 765.5C477.1 766.1 477.9 768.5 478.4 769.5C479.0 770.5 478.6 771.3 479.7 771.4C480.8 771.5 483.2 770.2 485.0 770.0C486.8 769.8 489.0 770.2 490.7 770.3C492.4 770.4 493.7 771.0 495.1 770.8C496.6 770.7 497.8 769.4 499.4 769.2C501.0 769.0 503.1 769.0 505.0 769.4C506.8 769.8 509.0 770.7 510.4 771.4C511.8 772.1 512.4 773.2 513.5 773.6C514.6 773.9 515.5 773.5 517.0 773.6C518.5 773.7 520.9 773.9 522.8 774.4C524.6 775.0 526.4 776.1 527.9 776.9C529.4 777.7 530.3 778.6 531.8 779.0C533.2 779.3 535.4 778.7 536.7 779.1C538.0 779.5 538.7 780.2 539.4 781.1C540.1 782.0 540.3 783.4 541.0 784.6C541.7 785.8 542.5 787.2 543.6 788.1C544.7 789.0 546.1 789.4 547.6 790.0C549.1 790.6 551.2 790.9 552.7 791.6C554.2 792.4 555.7 793.5 556.4 794.4C557.1 795.3 556.2 796.4 556.6 797.1C557.0 797.8 558.6 797.9 558.6 798.5C558.6 799.1 557.3 799.9 556.3 800.8C555.3 801.7 553.3 802.7 552.5 804.0C551.7 805.3 551.4 807.2 551.3 808.5C551.2 809.9 551.2 810.7 552.0 812.0C552.8 813.3 555.0 814.6 556.1 816.0C557.2 817.5 558.2 819.0 558.6 820.7C559.0 822.4 558.2 824.5 558.6 826.3C559.0 828.1 560.5 829.8 560.8 831.6C561.1 833.4 561.0 835.3 560.6 837.1C560.2 838.9 558.6 841.0 558.6 842.6C558.6 844.2 559.7 845.3 560.8 846.8C561.9 848.2 563.9 850.0 565.1 851.3C566.3 852.6 567.4 853.7 568.2 854.8C568.9 855.9 570.0 856.9 569.5 857.9C569.0 858.9 566.3 859.7 565.2 860.8C564.1 861.9 563.4 863.1 563.0 864.5C562.6 865.9 563.1 867.8 562.7 869.3C562.3 870.7 561.8 872.1 560.8 873.2C559.8 874.3 557.7 874.8 556.6 875.9C555.5 877.0 555.0 878.7 554.2 879.8C553.4 880.9 552.7 881.9 551.6 882.6C550.5 883.3 549.1 883.9 547.6 884.2C546.1 884.5 544.0 884.1 542.5 884.5C541.1 884.8 540.2 885.6 538.9 886.4C537.6 887.2 536.5 888.6 535.0 889.4C533.5 890.1 531.7 890.4 530.1 890.8C528.5 891.2 526.7 891.2 525.2 891.9C523.8 892.7 522.6 894.2 521.3 895.1C520.0 896.0 518.6 896.7 517.2 897.1C515.7 897.4 514.3 897.2 512.6 897.3C510.9 897.4 508.8 897.3 507.0 897.9C505.1 898.4 503.4 899.7 501.6 900.6C499.8 901.5 497.9 902.6 496.1 903.1C494.3 903.7 492.3 903.8 490.7 903.9C489.1 904.0 488.0 903.6 486.5 903.9C485.0 904.3 483.3 906.0 481.9 906.1C480.5 906.2 479.5 905.5 478.4 904.8C477.3 904.0 476.4 902.7 475.4 901.7C474.4 900.7 473.6 899.2 472.5 898.5C471.4 897.8 470.1 897.9 468.8 897.3C467.5 896.7 466.1 895.9 465.0 894.8C463.9 893.7 463.3 892.0 462.2 890.8C461.1 889.6 460.0 888.5 458.5 887.7C457.1 887.0 455.2 887.3 453.5 886.4C451.8 885.5 449.9 884.1 448.4 882.6C447.0 881.1 445.7 879.3 444.7 877.6C443.7 875.9 443.4 874.1 442.3 872.7C441.2 871.2 439.3 870.4 438.1 868.9C436.9 867.4 435.8 865.6 435.1 863.8C434.4 861.9 433.7 859.8 433.8 857.9C433.9 856.0 435.6 854.0 435.9 852.2C436.3 850.4 436.4 848.8 435.9 847.0C435.4 845.2 433.6 843.4 432.9 841.6C432.1 839.7 431.4 837.8 431.6 836.0C431.8 834.2 433.4 832.5 433.8 830.6C434.2 828.8 433.6 827.0 433.8 825.1C434.0 823.2 434.4 821.2 435.1 819.4C435.8 817.5 437.2 815.8 438.1 814.1C439.0 812.4 439.8 810.9 440.2 809.1C440.6 807.3 440.4 805.2 440.3 803.2C440.2 801.2 439.5 799.0 439.5 797.2C439.5 795.4 439.7 793.3 440.3 792.2C440.9 791.1 442.6 791.4 443.4 790.7C444.1 790.0 443.8 788.7 444.7 787.8C445.6 786.9 447.0 785.7 448.5 785.0C449.9 784.3 451.8 784.2 453.5 783.5C455.2 782.8 457.1 782.2 458.5 781.1C460.0 780.0 461.1 778.1 462.2 776.9C463.3 775.7 464.0 774.6 465.1 773.9C466.2 773.2 467.6 772.9 468.8 772.5C470.0 772.1 471.1 772.0 472.0 771.3C472.9 770.6 473.8 769.0 474.3 768.1C474.8 767.2 474.7 766.4 475.1 766.0C475.5 765.5 475.9 764.9 476.5 765.5Z" fill="#f8d7cb" stroke="#e6b4a4" stroke-width="1.5"/>
<circle cx="452" cy="820" r="1.2" fill="#efc6ba"/>
<circle cx="470" cy="800" r="1.2" fill="#efc6ba"/>
<circle cx="532" cy="800" r="1.2" fill="#efc6ba"/>
<circle cx="545" cy="850" r="1.2" fill="#efc6ba"/>
<circle cx="470" cy="870" r="1.2" fill="#efc6ba"/>
<circle cx="520" cy="880" r="1.2" fill="#efc6ba"/>
<circle cx="455" cy="850" r="1.2" fill="#efc6ba"/>
<circle cx="500" cy="815" r="1.2" fill="#efc6ba"/>
<path d="M490.0 824.0C492.7 821.2 496.0 819.1 500.0 818.0C504.0 816.9 509.3 817.1 514.0 817.4C518.7 817.7 524.1 818.1 528.0 820.0C531.9 821.9 535.5 825.3 537.5 829.0C539.5 832.7 539.9 837.5 540.0 842.0C540.1 846.5 539.7 851.7 538.0 856.0C536.3 860.3 533.7 864.8 530.0 868.0C526.3 871.2 521.0 874.2 516.0 875.0C511.0 875.8 504.5 874.8 500.0 873.0C495.5 871.2 491.7 867.8 489.0 864.0C486.3 860.2 484.8 854.8 484.0 850.0C483.2 845.2 483.0 839.3 484.0 835.0C485.0 830.7 487.3 826.8 490.0 824.0Z" fill="#efc5b7" stroke="#e8b8a8" stroke-width="0.6"/>
<path d="M414 783L437 775L463 812L452 817L419 806Z" fill="#d4d4d4" opacity="0.62"/>
<path d="M580 768L558.4 761.5L543.5 792.5L557.5 799L574.5 790Z" fill="#d4d4d4" opacity="0.62"/>
<path d="M434 920L427 895.5L455 887.5L470.5 894L457.5 917Z" fill="#d4d4d4" opacity="0.62"/>
<circle cx="414.2" cy="783.6" r="22.8" fill="#f0d8b0" stroke="#dabb92" stroke-width="0.8"/>
<circle cx="420" cy="783.2" r="5.2" fill="none" stroke="#a07a70" stroke-width="0.75"/>
<circle cx="417.4" cy="788.8" r="5.2" fill="none" stroke="#a07a70" stroke-width="0.75"/>
<circle cx="423" cy="789" r="5.2" fill="none" stroke="#a07a70" stroke-width="0.75"/>
<text x="399.8" y="787" font-size="6.3" font-weight="bold" fill="#2a2a2a" transform="rotate(-55 399.8 787)">eccDNA</text>
<text x="404.5" y="792.6" font-size="3.9" font-weight="bold" fill="#2a2a2a" transform="rotate(-55 404.5 792.6)">TP53_CLONE</text>
<circle cx="580.4" cy="768.7" r="23" fill="#f4f4e6" stroke="#e4e4d0" stroke-width="0.8"/>
<text x="578.6" y="751.2" font-size="7.9" fill="#2a2a2a" transform="rotate(54 578.6 751.2)">Genomic</text>
<text x="570.4" y="755.6" font-size="7.9" fill="#2a2a2a" transform="rotate(54 570.4 755.6)">Instability</text>
<g transform="rotate(38 571.7 775.8)" stroke="#c02828" fill="none"><path d="M563 772.6H580.4M563 779H580.4" stroke-width="1"/><path d="M564.5 772.6V779M566.5 772.6V779M568.5 772.6V779M570.5 772.6V779M573 772.6V779M575 772.6V779M577 772.6V779M579 772.6V779" stroke-width="0.7"/></g>
<circle cx="571.8" cy="776" r="2.2" fill="#f4f4e6"/>
<circle cx="433.9" cy="920" r="25.1" fill="#f0eef8" stroke="#dcd8ea" stroke-width="0.8"/>
<text x="410.4" y="914.1" font-size="7.3" font-weight="bold" fill="#2a2a2a" transform="rotate(53 410.4 914.1)">Glycolysis</text>
<line x1="425.1" y1="900.8" x2="416.02" y2="907.43" stroke="#222" stroke-width="0.8"/>
<path d="M414.0 908.9L415.5 905.8L417.4 908.4Z" fill="#222"/>
<g transform="rotate(50 439.7 916)" opacity="0.85"><rect x="432" y="914.6" width="16" height="2.6" fill="#f2e6a6" stroke="#d8c878" stroke-width="0.3"/><rect x="446" y="905.5" width="5" height="3" fill="#c4e6b0" stroke="#98c888" stroke-width="0.3"/><rect x="428" y="921" width="7" height="3" fill="#c8c0e6"/><path d="M436 917.5V922M440 917.5V921M444 917.5V920M448 909V914" stroke="#a8d0c8" stroke-width="0.6"/><path d="M432 913L440 912" stroke="#f0c0a0" stroke-width="0.5"/></g>
<line x1="395.6" y1="802.1" x2="378.85" y2="827.92" stroke="#222" stroke-width="1.15"/>
<path d="M376.4 831.7L377.3 826.3L381.0 828.7Z" fill="#222"/>
<line x1="575.7" y1="809.5" x2="597.16" y2="832.88" stroke="#222" stroke-width="1.15"/>
<path d="M600.2 836.2L595.2 834.0L598.4 831.0Z" fill="#222"/>
<line x1="581" y1="890.5" x2="602.65" y2="864.08" stroke="#222" stroke-width="1.1"/>
<path d="M605.5 860.6L604.0 865.9L600.6 863.1Z" fill="#222"/>
<text x="379.3" y="846" font-size="12" text-anchor="middle" fill="#111">Response to</text>
<text x="379.3" y="859.3" font-size="12" text-anchor="middle" fill="#111">cisplatin-based</text>
<text x="379.3" y="872.6" font-size="12" text-anchor="middle" fill="#111">chemotherapy</text>
<line x1="334.3" y1="833.8" x2="334.3" y2="867" stroke="#d42a20" stroke-width="1.6"/>
<path d="M329.6 865.5H339L334.3 876.2Z" fill="#d42a20"/>
<text x="634.9" y="847.3" font-size="11.8" text-anchor="middle" fill="#111">Response to</text>
<text x="633.3" y="860.6" font-size="11.8" text-anchor="middle" fill="#111">anti-PD1</text>
<line x1="676.4" y1="869.8" x2="676.4" y2="837" stroke="#1a9a8e" stroke-width="1.6"/>
<path d="M671.8 838.5H681L676.4 828.6Z" fill="#1a9a8e"/>
<text x="441.8" y="850.4" font-size="15" fill="#111">KDM6A</text>
<line x1="448.2" y1="827.6" x2="480.3" y2="861.2" stroke="#e8302a" stroke-width="1.7"/>
<line x1="476.5" y1="826.1" x2="455.5" y2="865.5" stroke="#e8302a" stroke-width="1.7"/>
<line x1="500.8" y1="823.5" x2="500.8" y2="831" stroke="#222" stroke-width="0.8"/>
<path d="M500.8 833.5L499.5 830.5L502.1 830.5Z" fill="#222"/>
<text x="502.8" y="832.8" font-size="12.7" fill="#e23a30">H3K4me3</text>
<text x="515.3" y="798.4" font-size="9.4" font-style="italic" fill="#222">Exo1,</text>
<text x="515.3" y="809.5" font-size="9.4" font-style="italic" fill="#222">Msh2/6</text>
<line x1="508.6" y1="791" x2="508.6" y2="805.5" stroke="#222" stroke-width="0.9"/>
<path d="M508.6 808.5L507.1 805.0L510.1 805.0Z" fill="#222"/>
<text x="454" y="804.2" font-size="8.4" font-style="italic" fill="#222">Polq</text>
<line x1="450.2" y1="806.5" x2="450.2" y2="794.5" stroke="#222" stroke-width="0.8"/>
<path d="M450.2 792.0L451.5 795.0L448.9 795.0Z" fill="#222"/>
<text x="487.6" y="887.4" font-size="9.4" font-style="italic" fill="#222">Hk2</text>
<line x1="484.7" y1="877.5" x2="484.7" y2="891.5" stroke="#222" stroke-width="0.9"/>
<path d="M484.7 894.5L483.2 891.0L486.2 891.0Z" fill="#222"/>
<line x1="494.9" y1="862.6" x2="548.9" y2="862.6" stroke="#6a5a9a" stroke-width="1"/>
<g transform="rotate(-20 507.4 856.8)"><rect x="502.2" y="850.5999999999999" width="10.4" height="12.4" rx="3.5" fill="#2e93cc"/><ellipse cx="509.79999999999995" cy="856.8" rx="3.2" ry="6.2" fill="#4cb2e2"/><line x1="505.9" y1="850.8" x2="505.9" y2="862.8" stroke="#1d6fa8" stroke-width="0.5"/></g>
<g transform="rotate(-20 534.3 856.8)"><rect x="529.0999999999999" y="850.5999999999999" width="10.4" height="12.4" rx="3.5" fill="#2e93cc"/><ellipse cx="536.6999999999999" cy="856.8" rx="3.2" ry="6.2" fill="#4cb2e2"/><line x1="532.8" y1="850.8" x2="532.8" y2="862.8" stroke="#1d6fa8" stroke-width="0.5"/></g>
<line x1="512.4" y1="842.8" x2="510" y2="838" stroke="#884444" stroke-width="0.6"/>
<line x1="534.9" y1="843.6" x2="535" y2="849" stroke="#884444" stroke-width="0.6"/>
<circle cx="501.6" cy="848" r="2.6" fill="#e02828" stroke="#a01818" stroke-width="0.4"/>
<circle cx="512.4" cy="842.8" r="2.6" fill="#e02828" stroke="#a01818" stroke-width="0.4"/>
<circle cx="518.8" cy="858.2" r="2.6" fill="#e02828" stroke="#a01818" stroke-width="0.4"/>
<circle cx="534.9" cy="843.6" r="2.6" fill="#e02828" stroke="#a01818" stroke-width="0.4"/>
<circle cx="525" cy="868.5" r="2.6" fill="#e02828" stroke="#a01818" stroke-width="0.4"/>
<circle cx="490.3" cy="912.8" r="1.45" fill="#2a8ecf"/>
<circle cx="472.5" cy="920.1" r="1.45" fill="#2a8ecf"/>
<circle cx="483.1" cy="923.4" r="1.45" fill="#2a8ecf"/>
<circle cx="497.3" cy="926.4" r="1.45" fill="#2a8ecf"/>
<circle cx="507.6" cy="920.1" r="1.45" fill="#2a8ecf"/>
<circle cx="470.4" cy="933" r="1.45" fill="#2a8ecf"/>
<circle cx="483.1" cy="932.1" r="1.45" fill="#2a8ecf"/>
<circle cx="492.3" cy="931.5" r="1.45" fill="#2a8ecf"/>
<circle cx="510.4" cy="931.5" r="1.45" fill="#2a8ecf"/>
<circle cx="489" cy="937.4" r="1.45" fill="#2a8ecf"/>
<circle cx="497.3" cy="935.4" r="1.45" fill="#2a8ecf"/>
<circle cx="479.1" cy="942" r="1.45" fill="#2a8ecf"/>
<circle cx="492.3" cy="942" r="1.45" fill="#2a8ecf"/>
<circle cx="502.3" cy="942" r="1.45" fill="#2a8ecf"/>
<circle cx="469.3" cy="945.3" r="1.45" fill="#2a8ecf"/>
<circle cx="485.7" cy="954.4" r="1.45" fill="#2a8ecf"/>
<circle cx="497.3" cy="953.8" r="1.45" fill="#2a8ecf"/>
<circle cx="513.7" cy="951.2" r="1.45" fill="#2a8ecf"/>
<text x="457.9" y="965" font-size="11.4" font-weight="bold" fill="#2d5f9e">Lactate</text>
<text x="458.6" y="978.6" font-size="11.4" font-weight="bold" fill="#2d5f9e">in TME</text>
<line x1="453.5" y1="957.5" x2="453.5" y2="973" stroke="#222" stroke-width="0.9"/>
<path d="M453.5 976.5L451.9 972.5L455.1 972.5Z" fill="#222"/>
<path d="M500 925Q522 905 545 922" fill="none" stroke="#222" stroke-width="0.9" stroke-dasharray="2,1.6"/>
<path d="M548 926.5L541.5 923.5L545.5 919.5Z" fill="#222"/>
<circle cx="583.1" cy="945" r="35.8" fill="#cde8e6" stroke="#46a99d" stroke-width="1.4"/>
<circle cx="588.6" cy="949.8" r="21.7" fill="#b0d8d6"/>
<text x="581.9" y="904.1" font-size="10.2" text-anchor="middle" font-weight="bold" fill="#3d9bb0">Tregs</text>
<text x="572.5" y="920.5" font-size="12.4" font-weight="bold" fill="#b98f48">H3K9la/18la</text>
<line x1="567.4" y1="909.5" x2="567.4" y2="916" stroke="#111" stroke-width="2.2"/>
<path d="M562.8 914.5H572L567.4 921.8Z" fill="#111"/>
<line x1="553.7" y1="949.8" x2="611.5" y2="949.8" stroke="#4a4a8a" stroke-width="1"/>
<g transform="rotate(-20 568.2 942.1)"><rect x="563.0" y="935.9" width="10.4" height="12.4" rx="3.5" fill="#2e93cc"/><ellipse cx="570.6" cy="942.1" rx="3.2" ry="6.2" fill="#4cb2e2"/><line x1="566.7" y1="936.1" x2="566.7" y2="948.1" stroke="#1d6fa8" stroke-width="0.5"/></g>
<g transform="rotate(-20 597.6 942.1)"><rect x="592.4" y="935.9" width="10.4" height="12.4" rx="3.5" fill="#2e93cc"/><ellipse cx="600.0" cy="942.1" rx="3.2" ry="6.2" fill="#4cb2e2"/><line x1="596.1" y1="936.1" x2="596.1" y2="948.1" stroke="#1d6fa8" stroke-width="0.5"/></g>
<line x1="573.5" y1="930" x2="570.5" y2="937" stroke="#885544" stroke-width="0.6"/>
<line x1="597.1" y1="930" x2="597.1" y2="936.5" stroke="#885544" stroke-width="0.6"/>
<line x1="561.4" y1="931.8" x2="566" y2="937" stroke="#883333" stroke-width="0.6"/>
<circle cx="573.5" cy="927.7" r="2.7" fill="#f6d8b2" stroke="#a87858" stroke-width="0.6"/>
<circle cx="597.1" cy="927.7" r="2.7" fill="#f6d8b2" stroke="#a87858" stroke-width="0.6"/>
<circle cx="561.4" cy="931.8" r="3" fill="#e01e1e" stroke="#a01010" stroke-width="0.4"/>
<path d="M540.5 943.2H547M540.5 947.8H547M541.5 943.2Q539.5 945.5 541.5 947.8" fill="none" stroke="#e8a030" stroke-width="1.4"/>
<text x="526.6" y="939" font-size="9.7" fill="#111">PD-1</text>
<line x1="524" y1="930.5" x2="524" y2="939" stroke="#222" stroke-width="0.8"/>
<path d="M524.0 941.5L522.7 938.5L525.3 938.5Z" fill="#222"/>
<text x="650" y="934.2" font-size="9.2" text-anchor="middle" fill="#222">Immune-</text>
<text x="650" y="945.5" font-size="9.2" text-anchor="middle" fill="#222">suppressive</text>
<text x="650" y="955.1" font-size="9.2" text-anchor="middle" fill="#222">function</text>
<line x1="624.8" y1="938.5" x2="624.8" y2="949.5" stroke="#222" stroke-width="0.8"/>
<path d="M624.8 952.5L623.4 949.0L626.2 949.0Z" fill="#222"/>
<text x="585.6" y="959.5" font-size="9.4" text-anchor="middle" fill="#111">TGFb</text>
<text x="585.6" y="968.6" font-size="9.4" text-anchor="middle" fill="#111">Pdcd1</text>
<text x="585.6" y="978.7" font-size="9.4" text-anchor="middle" fill="#111">FoxP3</text>
<line x1="571" y1="961.5" x2="571" y2="976" stroke="#222" stroke-width="0.8"/>
<path d="M571.0 979.0L569.6 975.5L572.4 975.5Z" fill="#222"/>
<line x1="323.6" y1="983" x2="685" y2="983" stroke="#bdbdbd" stroke-width="0.9"/>
<text x="640.5" y="327.5" font-size="7" text-anchor="middle">-</text></svg></body></html>
